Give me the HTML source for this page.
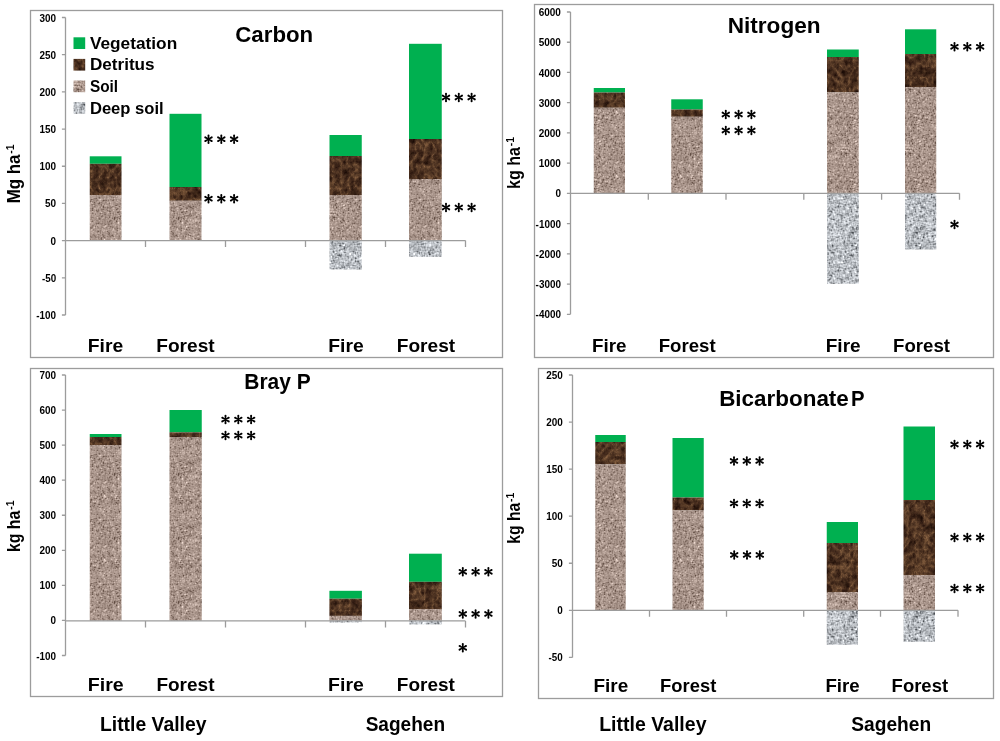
<!DOCTYPE html>
<html><head><meta charset="utf-8"><title>Figure</title>
<style>
html,body{margin:0;padding:0;background:#fff;}
body{width:1000px;height:741px;overflow:hidden;font-family:"Liberation Sans",sans-serif;}
svg{display:block;will-change:transform}
svg text{font-family:"Liberation Sans",sans-serif;font-weight:bold;fill:#000}
</style></head><body>
<svg width="1000" height="741" viewBox="0 0 1000 741">
<defs>
<filter id="f_det" x="0" y="0" width="100%" height="100%" color-interpolation-filters="sRGB">
<feTurbulence type="turbulence" baseFrequency="0.12 0.09" numOctaves="5" seed="12" result="n"/>
<feColorMatrix in="n" type="matrix" values="1 0 0 0 0  1 0 0 0 0  1 0 0 0 0  0 0 0 0 1" result="m"/>
<feComponentTransfer in="m" result="c">
<feFuncR type="table" tableValues="0.50 0.42 0.35 0.30 0.265 0.235 0.21 0.19 0.18 0.18 0.18"/>
<feFuncG type="table" tableValues="0.36 0.29 0.235 0.195 0.165 0.14 0.125 0.11 0.10 0.10 0.10"/>
<feFuncB type="table" tableValues="0.24 0.19 0.15 0.125 0.105 0.09 0.075 0.065 0.06 0.06 0.06"/>
</feComponentTransfer>
<feTurbulence type="fractalNoise" baseFrequency="0.24 0.2" numOctaves="3" seed="5" result="g"/>
<feColorMatrix in="g" type="matrix" values="1.0 0 0 0 0  0.8 0 0 0 0.1  0.55 0 0 0 0.225  0 0 0 0 1" result="g2"/>
<feComposite in="c" in2="g2" operator="arithmetic" k1="0" k2="1" k3="0.32" k4="-0.15"/>
</filter>
<pattern id="p_soil" patternUnits="userSpaceOnUse" width="64" height="64">
<rect width="64" height="64" fill="#a79389"/>
<g fill="none" stroke-width="1" shape-rendering="crispEdges" transform="translate(0 .5)">
<path stroke="#5f4b41" d="M16 15h1M14 25h1M50 26h1M55 63h1"/>
<path stroke="#675349" d="M39 8h1M39 14h1M23 20h1M13 25h1M50 25h1M9 26h1M23 28h1M52 29h1M27 51h1M52 54h1M35 56h1M18 60h1M17 63h1"/>
<path stroke="#6f5b51" d="M63 5h1M10 7h1M30 10h1M16 11h1M35 11h1M52 13h1M1 14h1M39 15h1M62 15h1M28 16h1M52 17h1M28 18h1M58 19h1M53 20h2M9 25h1M50 27h1M21 30h1M34 31h1M34 39h1M48 43h1M37 46h1M6 47h1M38 49h1M52 50h1M35 51h1M48 51h1M54 52h1M18 53h1M63 54h1M30 55h1M26 58h1M15 60h1M42 63h1"/>
<path stroke="#776359" d="M22 2h1M33 2h1M35 5h1M4 6h1M32 6h1M13 7h1M27 7h1M49 8h1M26 9h1M15 12h1M15 13h1M61 14h1M63 15h1M32 18h1M45 19h1M17 22h1M56 24h1M45 25h1M35 26h1M55 26h1M14 27h1M22 27h1M20 29h1M28 29h1M45 29h1M60 35h1M18 36h1M53 36h1M10 37h1M58 37h1M22 39h1M43 39h1M45 41h1M12 42h1M62 43h1M23 44h1M39 44h1M41 50h1M36 51h1M27 52h1M58 52h1M8 53h1M20 53h1M62 53h1M12 54h1M22 54h1M26 54h1M31 55h1M53 55h1M63 55h1M20 56h1M34 56h1M60 56h1M5 58h1M6 59h1M58 62h1M62 62h1"/>
<path stroke="#7f6b61" d="M51 0h1M17 2h1M15 3h1M13 5h1M9 6h1M5 7h1M15 8h1M40 8h1M42 8h1M48 8h1M22 9h1M35 10h1M9 11h1M34 11h1M45 11h1M37 12h1M51 13h1M55 14h1M60 14h1M62 14h1M43 15h1M0 16h1M53 16h1M58 16h2M28 17h1M39 17h1M34 18h1M43 18h1M33 19h1M46 19h1M11 21h1M13 21h1M28 21h1M36 21h1M46 21h1M41 22h1M17 23h1M63 23h1M4 24h1M37 24h1M4 25h1M53 25h1M48 26h1M23 27h1M46 28h1M7 30h1M32 31h1M47 31h1M41 32h1M44 32h1M23 33h1M46 34h1M19 36h1M19 38h1M53 38h1M6 42h1M38 42h1M60 42h1M57 44h1M37 45h1M40 45h1M3 46h1M21 46h1M37 47h1M6 48h1M33 48h1M53 48h1M60 48h1M60 49h1M22 50h1M30 50h1M32 50h1M3 51h1M15 52h1M14 53h1M26 53h1M9 54h1M25 55h1M43 55h1M16 57h1M30 57h1M3 59h1M38 59h1M15 61h1M22 62h1"/>
<path stroke="#877369" d="M18 0h1M55 0h1M27 1h1M6 2h1M15 2h1M8 3h1M38 3h1M9 5h1M18 5h1M23 5h1M49 5h1M31 6h1M49 7h1M41 8h1M44 8h1M12 9h2M28 12h1M30 12h1M7 13h1M37 13h1M60 13h1M13 14h1M30 14h1M13 15h1M22 15h1M47 15h1M58 15h1M1 16h1M37 17h2M53 17h1M55 19h1M15 21h1M57 21h1M62 21h1M40 22h1M55 22h1M61 22h1M23 23h1M38 23h1M59 23h3M12 24h1M38 24h1M45 24h1M16 25h1M41 25h1M51 25h1M14 26h1M23 26h1M35 27h1M12 28h1M24 28h1M52 28h1M58 28h1M24 29h1M59 29h1M4 30h1M22 30h1M33 31h1M57 31h1M61 32h1M31 34h1M26 35h2M48 35h1M0 36h1M61 37h1M23 38h1M16 39h1M33 39h1M11 40h1M44 40h1M61 40h1M20 41h1M44 42h2M58 42h1M30 43h1M39 43h1M47 43h1M19 44h1M22 44h1M26 44h1M31 44h1M46 44h1M49 44h1M55 44h1M7 47h1M9 47h1M12 48h1M35 48h1M61 48h1M17 49h2M44 49h1M47 49h1M14 50h1M21 50h1M31 50h1M4 51h1M26 51h1M63 51h1M14 52h1M26 52h1M39 52h1M50 52h1M9 53h1M17 53h1M37 53h1M58 53h1M63 53h1M47 54h1M51 54h1M52 55h1M51 56h1M5 57h1M4 58h1M19 58h1M29 58h1M33 58h1M45 58h1M35 59h1M8 60h1M20 60h1M59 60h1M19 61h1M25 61h1M27 61h1M50 61h1M47 62h1"/>
<path stroke="#8f7b71" d="M11 0h1M17 0h1M47 0h1M6 1h1M11 1h1M58 1h1M30 2h1M37 2h1M13 3h2M17 3h1M22 3h1M24 3h1M7 5h1M12 5h1M17 5h1M19 5h1M47 5h1M62 5h1M10 6h1M22 6h1M30 6h1M35 6h1M28 7h1M2 8h1M26 8h1M32 8h2M59 8h1M6 10h1M37 10h1M7 11h1M15 11h1M30 11h1M56 11h1M0 12h1M3 12h1M5 12h1M53 12h1M25 13h1M16 14h1M18 14h1M48 14h1M41 15h1M44 15h1M46 15h1M51 15h1M59 15h1M61 15h1M16 16h1M43 16h1M46 16h1M34 17h1M45 18h1M23 19h1M34 19h1M54 19h1M62 19h1M3 20h1M40 20h1M12 21h1M20 21h1M49 21h1M31 22h1M62 22h1M9 23h1M58 23h1M9 24h1M13 24h2M62 24h1M12 25h1M15 25h1M27 25h2M52 25h1M8 26h1M12 26h1M22 26h1M36 26h1M51 26h1M11 27h1M53 27h1M56 27h1M11 28h1M22 28h1M47 28h1M43 29h1M46 29h1M58 29h1M34 30h1M57 30h1M4 31h1M38 31h1M44 31h1M25 32h1M45 32h1M28 33h2M23 34h1M28 34h1M33 34h1M28 35h1M42 35h1M6 36h2M10 36h1M17 36h1M26 36h2M7 38h1M12 38h2M36 38h1M17 39h1M36 39h1M20 40h1M36 40h1M45 40h1M44 41h1M29 42h1M34 42h1M45 43h1M0 44h1M13 44h1M43 44h1M27 45h1M31 45h1M34 45h1M7 46h1M12 46h1M25 46h1M21 47h1M26 47h1M1 48h1M7 48h1M24 48h1M23 49h1M55 49h1M36 50h1M48 50h1M55 50h1M58 51h1M47 52h1M53 52h1M63 52h1M7 53h1M39 53h1M47 53h1M61 53h1M0 54h1M7 55h1M12 55h1M20 55h1M24 55h1M54 55h1M60 55h1M49 56h1M10 57h1M17 57h1M28 57h1M15 58h1M25 58h1M10 59h1M15 59h1M6 60h1M9 60h1M19 60h1M4 61h1M18 61h1M54 61h1M5 62h1M40 62h1M46 62h1M47 63h1"/>
<path stroke="#978379" d="M5 0h1M42 0h1M52 0h1M5 1h1M33 1h1M51 1h1M53 1h1M32 2h1M3 3h1M37 3h1M45 3h1M51 3h1M60 3h1M13 4h1M18 4h2M24 4h1M46 4h2M63 4h1M11 5h1M24 5h1M34 5h1M42 5h1M58 5h1M5 6h1M12 6h2M23 6h1M57 6h2M12 7h1M26 7h1M29 7h1M46 7h1M52 7h1M1 8h1M38 8h1M56 8h1M6 9h1M28 9h1M32 9h1M38 9h2M7 10h1M9 10h2M21 10h2M41 10h1M5 11h2M8 11h1M57 11h1M9 12h1M11 12h1M14 12h1M27 12h1M29 12h1M34 12h1M40 12h1M56 12h1M11 13h1M13 13h2M31 13h1M39 13h1M53 13h1M62 13h1M0 14h1M3 14h1M24 14h1M31 14h1M46 14h1M49 14h1M59 14h1M0 15h1M3 15h2M17 15h1M21 15h1M28 15h1M36 15h1M40 15h1M45 15h1M57 15h1M21 16h1M39 16h1M45 16h1M54 16h1M63 16h1M1 17h1M14 17h1M18 17h1M24 17h1M42 17h1M1 18h1M6 18h1M14 18h2M24 18h1M33 18h1M37 18h1M62 18h1M32 19h1M38 19h1M59 19h1M41 20h1M55 20h1M1 21h1M3 21h1M8 21h1M10 21h1M25 21h1M29 21h1M38 21h1M40 21h2M6 22h1M49 22h1M51 22h1M1 23h1M18 23h1M24 23h1M35 23h1M44 23h3M56 23h1M62 23h1M5 24h1M41 24h1M51 24h1M60 24h2M8 25h1M23 25h1M29 25h1M35 25h1M42 25h1M48 25h1M56 25h1M60 25h1M1 26h1M13 26h1M34 26h1M41 26h1M44 26h1M53 26h1M56 26h1M59 26h1M36 27h1M39 27h2M28 28h1M32 28h2M40 28h1M45 28h1M9 29h1M17 29h1M23 29h1M27 29h1M38 29h1M53 29h1M8 30h1M35 30h1M43 30h3M47 30h1M52 30h1M9 31h1M20 31h1M35 31h3M40 31h1M56 31h1M0 32h1M4 32h2M18 32h1M32 32h1M37 32h1M40 32h1M6 33h1M9 33h1M44 33h1M57 33h1M9 34h1M21 34h1M44 34h1M47 34h2M52 34h1M17 35h1M34 35h1M37 35h2M46 35h1M52 35h2M61 35h1M14 36h1M24 36h1M45 36h1M50 36h3M6 37h2M29 37h1M51 37h2M59 37h1M20 38h1M22 38h1M24 38h2M52 38h1M59 38h1M7 39h1M11 39h1M23 39h1M2 40h1M14 40h2M33 40h1M57 40h2M6 41h1M36 41h1M53 41h1M57 41h2M5 42h1M7 42h1M11 42h1M13 42h1M15 42h1M39 42h1M48 42h1M57 42h1M12 43h2M22 43h2M29 43h1M38 43h1M40 43h1M55 43h1M60 43h2M8 44h1M27 44h1M30 44h1M34 44h1M45 44h1M48 44h1M32 45h1M39 45h1M55 45h1M6 46h1M34 46h1M36 46h1M54 46h2M5 47h1M11 48h1M25 48h1M34 48h1M54 48h1M56 48h1M11 49h1M19 49h2M33 49h1M48 49h1M61 49h1M4 50h1M15 50h1M42 50h1M46 50h1M49 50h2M16 51h1M28 51h1M47 51h1M61 51h1M8 52h2M16 52h1M36 52h2M48 52h1M51 52h1M59 52h3M13 53h1M22 53h1M36 53h1M48 53h1M54 53h1M17 54h1M20 54h1M25 54h1M35 54h1M37 54h1M48 54h1M53 54h2M56 54h1M62 54h1M29 55h1M35 55h1M44 55h1M47 55h1M50 55h2M61 55h2M7 56h1M11 56h1M18 56h1M36 56h1M53 56h1M58 56h2M11 57h1M58 57h1M60 57h2M6 58h1M8 58h1M16 58h2M30 58h1M57 58h1M4 59h2M9 59h1M39 59h1M57 59h1M59 59h1M7 60h1M13 60h1M22 60h1M32 60h1M42 60h1M57 60h1M62 60h1M10 61h1M57 61h2M60 61h2M57 62h1M61 62h1M11 63h1M16 63h1M18 63h2M46 63h1M61 63h2"/>
<path stroke="#9f8b81" d="M12 0h1M16 0h1M19 0h1M27 0h1M32 0h3M36 0h1M41 0h1M46 0h1M53 0h1M60 0h1M7 1h1M12 1h1M17 1h1M22 1h1M28 1h1M46 1h1M57 1h1M60 1h1M3 2h2M23 2h1M27 2h1M29 2h1M34 2h1M41 2h2M57 2h1M12 3h1M18 3h2M32 3h1M43 3h2M46 3h1M57 3h1M59 3h1M3 4h1M8 4h1M20 4h1M25 4h1M32 4h1M35 4h1M37 4h2M42 4h1M45 4h1M62 4h1M0 5h2M3 5h1M8 5h1M10 5h1M20 5h1M22 5h1M32 5h1M36 5h1M38 5h2M48 5h1M51 5h1M57 5h1M6 6h1M8 6h1M15 6h2M39 6h1M42 6h1M8 7h2M11 7h1M30 7h4M39 7h1M41 7h2M47 7h1M58 7h1M22 8h1M27 8h1M29 8h2M47 8h1M52 8h1M58 8h1M14 9h2M25 9h1M27 9h1M29 9h2M41 9h1M62 9h1M4 10h1M19 10h2M23 10h1M29 10h1M31 10h1M36 10h1M38 10h1M42 10h1M45 10h1M50 10h1M58 10h1M2 11h1M20 11h1M31 11h1M33 11h1M37 11h2M40 11h1M51 11h3M55 11h1M58 11h1M61 11h1M2 12h1M7 12h2M13 12h1M16 12h2M20 12h1M22 12h1M31 12h1M35 12h2M43 12h1M45 12h1M51 12h2M54 12h2M57 12h1M61 12h1M1 13h1M16 13h1M28 13h1M32 13h1M45 13h1M57 13h1M59 13h1M61 13h1M2 14h1M4 14h1M22 14h1M25 14h1M28 14h1M36 14h1M38 14h1M43 14h1M45 14h1M58 14h1M1 15h1M29 15h1M52 15h1M60 15h1M20 16h1M26 16h2M29 16h1M51 16h2M62 16h1M0 17h1M15 17h1M20 17h1M32 17h1M40 17h1M43 17h1M58 17h1M62 17h2M8 18h1M16 18h1M20 18h1M23 18h1M25 18h3M29 18h1M38 18h1M44 18h1M47 18h1M52 18h1M61 18h1M18 19h1M25 19h1M39 19h1M53 19h1M4 20h1M22 20h1M28 20h1M33 20h1M39 20h1M46 20h1M49 20h1M56 20h3M62 20h1M0 21h1M2 21h1M14 21h1M17 21h1M23 21h1M31 21h1M35 21h1M37 21h1M45 21h1M48 21h1M55 21h1M61 21h1M1 22h3M16 22h1M22 22h1M36 22h1M46 22h1M52 22h1M7 23h1M27 23h1M41 23h1M49 23h1M57 23h1M7 24h2M27 24h1M33 24h2M54 24h2M58 24h2M63 24h1M3 25h1M10 25h1M17 25h1M20 25h3M37 25h1M43 25h1M54 25h1M7 26h1M16 26h1M20 26h2M27 26h1M32 26h1M49 26h1M8 27h3M12 27h1M27 27h1M31 27h1M34 27h1M38 27h1M41 27h1M49 27h1M55 27h1M8 28h1M17 28h1M20 28h1M41 28h1M57 28h1M59 28h1M8 29h1M10 29h1M12 29h1M14 29h1M21 29h1M33 29h2M40 29h2M47 29h2M57 29h1M5 30h1M9 30h1M14 30h1M20 30h1M32 30h1M38 30h1M40 30h2M48 30h1M51 30h1M56 30h1M2 31h1M5 31h1M18 31h2M21 31h1M25 31h1M31 31h1M41 31h1M43 31h1M45 31h2M48 31h1M58 31h1M6 32h1M17 32h1M30 32h1M38 32h1M47 32h1M53 32h1M56 32h1M62 32h1M10 33h1M13 33h1M18 33h2M38 33h3M45 33h1M14 34h1M19 34h2M22 34h1M27 34h1M37 34h1M43 34h1M45 34h1M49 34h1M53 34h1M0 35h1M14 35h1M23 35h1M33 35h1M49 35h1M59 35h1M62 35h1M3 36h2M8 36h1M13 36h1M20 36h1M31 36h1M34 36h1M36 36h2M39 36h2M42 36h1M55 36h1M58 36h1M3 37h1M5 37h1M17 37h3M21 37h1M25 37h1M53 37h1M0 38h2M5 38h1M10 38h1M17 38h2M29 38h1M31 38h1M33 38h2M45 38h1M60 38h2M6 39h1M8 39h1M14 39h1M18 39h3M24 39h2M35 39h1M44 39h1M57 39h1M25 40h1M38 40h1M52 40h1M62 40h1M12 41h1M15 41h1M43 41h1M52 41h1M56 41h1M59 41h1M63 41h1M22 42h1M30 42h1M35 42h1M52 42h1M59 42h1M3 43h3M15 43h1M24 43h3M28 43h1M31 43h1M36 43h1M46 43h1M49 43h1M57 43h1M9 44h1M12 44h1M16 44h2M20 44h1M24 44h1M28 44h1M40 44h1M44 44h1M47 44h1M54 44h1M62 44h1M10 45h1M13 45h1M19 45h1M21 45h1M26 45h1M28 45h1M35 45h1M38 45h1M41 45h1M46 45h1M54 45h1M57 45h1M2 46h1M4 46h2M13 46h2M50 46h1M63 46h1M8 47h1M12 47h1M20 47h1M35 47h2M43 47h3M0 48h1M5 48h1M13 48h1M20 48h1M44 48h2M47 48h1M55 48h1M57 48h1M62 48h1M5 49h2M12 49h1M14 49h1M30 49h1M37 49h1M45 49h2M49 49h1M2 50h2M5 50h1M11 50h1M16 50h1M19 50h2M23 50h1M27 50h1M35 50h1M37 50h2M47 50h1M53 50h1M60 50h1M0 51h1M5 51h1M9 51h1M14 51h2M25 51h1M30 51h2M40 51h1M49 51h2M56 51h2M59 51h2M0 52h1M4 52h1M18 52h1M35 52h1M40 52h1M52 52h1M57 52h1M62 52h1M0 53h3M10 53h1M12 53h1M15 53h1M19 53h1M21 53h1M27 53h1M35 53h1M38 53h1M40 53h1M45 53h2M50 53h4M57 53h1M1 54h1M3 54h1M8 54h1M10 54h1M18 54h1M21 54h1M23 54h1M27 54h2M30 54h2M38 54h3M45 54h2M50 54h1M55 54h1M0 55h1M3 55h1M14 55h2M17 55h1M21 55h1M28 55h1M34 55h1M37 55h1M41 55h1M49 55h1M57 55h1M10 56h1M14 56h1M16 56h2M19 56h1M25 56h1M28 56h3M37 56h1M41 56h1M46 56h2M50 56h1M54 56h1M61 56h1M3 57h2M9 57h1M15 57h1M26 57h2M29 57h1M41 57h2M59 57h1M7 58h1M9 58h1M27 58h2M34 58h1M41 58h1M51 58h2M58 58h2M61 58h1M8 59h1M13 59h1M16 59h1M23 59h1M27 59h1M29 59h3M36 59h2M1 60h1M3 60h1M12 60h1M14 60h1M16 60h2M21 60h1M27 60h1M31 60h1M38 60h1M47 60h1M56 60h1M61 60h1M63 60h1M5 61h1M14 61h1M16 61h1M23 61h1M26 61h1M31 61h2M34 61h1M59 61h1M62 61h1M4 62h1M17 62h3M27 62h2M54 62h2M5 63h1M24 63h1M32 63h2M41 63h1M50 63h2M54 63h1M56 63h3"/>
<path stroke="#af9b91" d="M2 0h1M9 0h1M13 0h1M25 0h1M29 0h1M37 0h1M44 0h1M49 0h1M63 0h1M0 1h2M9 1h2M13 1h1M19 1h1M23 1h2M26 1h1M31 1h1M35 1h1M37 1h1M39 1h1M42 1h1M55 1h2M1 2h2M10 2h1M19 2h2M31 2h1M43 2h1M45 2h1M47 2h1M50 2h1M56 2h1M2 3h1M5 3h1M10 3h1M16 3h1M20 3h1M23 3h1M27 3h1M31 3h1M47 3h1M53 3h1M55 3h1M62 3h1M2 4h1M7 4h1M9 4h3M23 4h1M26 4h1M28 4h4M33 4h1M36 4h1M40 4h1M43 4h1M49 4h2M53 4h1M60 4h1M4 5h1M15 5h1M27 5h1M31 5h1M33 5h1M41 5h1M45 5h2M61 5h1M0 6h1M7 6h1M18 6h1M24 6h1M26 6h1M33 6h2M36 6h1M41 6h1M45 6h1M47 6h1M51 6h2M56 6h1M61 6h1M7 7h1M14 7h1M17 7h1M22 7h1M24 7h1M40 7h1M43 7h1M45 7h1M53 7h1M12 8h1M14 8h1M21 8h1M24 8h1M45 8h1M50 8h2M63 8h1M0 9h2M4 9h1M7 9h1M9 9h1M35 9h1M37 9h1M40 9h1M43 9h1M47 9h2M50 9h3M61 9h1M3 10h1M16 10h1M18 10h1M24 10h1M32 10h1M34 10h1M39 10h2M54 10h1M56 10h1M61 10h2M3 11h1M12 11h3M23 11h2M32 11h1M43 11h1M47 11h1M62 11h2M6 12h1M25 12h1M32 12h2M58 12h2M63 12h1M8 13h2M17 13h3M26 13h1M34 13h1M38 13h1M44 13h1M46 13h1M55 13h2M63 13h1M5 14h2M8 14h1M11 14h1M14 14h2M27 14h1M32 14h1M40 14h1M44 14h1M47 14h1M51 14h1M57 14h1M6 15h1M8 15h1M10 15h1M12 15h1M32 15h1M50 15h1M53 15h1M56 15h1M2 16h1M18 16h1M25 16h1M32 16h1M34 16h2M55 16h2M60 16h1M4 17h2M8 17h1M17 17h1M21 17h1M23 17h1M26 17h1M30 17h1M33 17h1M35 17h1M48 17h1M50 17h1M54 17h1M0 18h1M2 18h1M4 18h1M31 18h1M36 18h1M39 18h2M2 19h1M17 19h1M26 19h2M35 19h1M42 19h1M48 19h3M52 19h1M61 19h1M0 20h1M20 20h1M29 20h1M32 20h1M35 20h1M38 20h1M42 20h1M48 20h1M52 20h1M60 20h2M4 21h1M9 21h1M16 21h1M21 21h1M24 21h1M34 21h1M44 21h1M47 21h1M53 21h1M59 21h1M0 22h1M21 22h1M25 22h1M27 22h3M33 22h2M38 22h1M43 22h1M50 22h1M53 22h1M56 22h1M60 22h1M2 23h2M16 23h1M20 23h3M25 23h1M30 23h1M32 23h2M47 23h2M52 23h2M0 24h2M6 24h1M10 24h1M17 24h1M28 24h2M40 24h1M43 24h2M52 24h1M0 25h2M5 25h1M11 25h1M18 25h1M24 25h1M26 25h1M30 25h1M32 25h1M38 25h1M40 25h1M44 25h1M62 25h1M2 26h1M5 26h1M10 26h1M17 26h1M25 26h1M37 26h1M39 26h1M45 26h1M47 26h1M57 26h1M62 26h2M1 27h1M5 27h1M7 27h1M21 27h1M25 27h1M29 27h1M33 27h1M37 27h1M45 27h1M47 27h2M51 27h2M58 27h1M9 28h1M18 28h1M31 28h1M37 28h1M42 28h1M49 28h1M51 28h1M55 28h1M2 29h1M5 29h1M7 29h1M13 29h1M15 29h1M31 29h1M37 29h1M42 29h1M51 29h1M55 29h1M60 29h1M62 29h2M0 30h1M11 30h1M17 30h1M23 30h1M25 30h1M29 30h1M36 30h1M42 30h1M59 30h2M12 31h1M14 31h1M23 31h1M29 31h2M49 31h1M62 31h1M3 32h1M7 32h1M10 32h1M13 32h1M20 32h1M28 32h1M31 32h1M34 32h2M39 32h1M48 32h1M51 32h1M58 32h1M60 32h1M63 32h1M2 33h1M5 33h1M11 33h1M17 33h1M20 33h1M27 33h1M30 33h1M32 33h1M43 33h1M46 33h2M50 33h1M52 33h1M61 33h1M1 34h1M10 34h1M12 34h1M15 34h1M24 34h3M34 34h1M36 34h1M50 34h1M55 34h1M60 34h2M1 35h1M3 35h1M9 35h1M18 35h3M35 35h2M41 35h1M45 35h1M55 35h1M2 36h1M11 36h1M23 36h1M32 36h1M44 36h1M47 36h1M59 36h1M62 36h1M0 37h1M2 37h1M32 37h1M35 37h1M42 37h1M45 37h1M50 37h1M55 37h1M57 37h1M2 38h2M8 38h1M15 38h1M28 38h1M32 38h1M43 38h1M51 38h1M2 39h2M5 39h1M12 39h1M21 39h1M26 39h2M30 39h1M37 39h1M42 39h1M59 39h1M61 39h3M0 40h1M4 40h1M8 40h1M17 40h2M22 40h1M24 40h1M26 40h1M29 40h2M32 40h1M34 40h2M47 40h1M50 40h1M55 40h1M63 40h1M0 41h1M5 41h1M7 41h1M11 41h1M18 41h2M23 41h1M27 41h1M29 41h1M33 41h1M40 41h1M46 41h1M49 41h1M54 41h1M60 41h1M8 42h2M14 42h1M17 42h1M23 42h1M27 42h1M31 42h2M36 42h1M40 42h2M54 42h2M0 43h1M2 43h1M6 43h1M8 43h2M11 43h1M17 43h1M20 43h1M27 43h1M37 43h1M43 43h1M52 43h1M58 43h2M2 44h2M7 44h1M14 44h2M41 44h2M11 45h1M17 45h2M22 45h1M43 45h1M47 45h1M52 45h2M62 45h2M0 46h1M9 46h1M16 46h1M28 46h2M35 46h1M38 46h3M44 46h1M46 46h1M48 46h2M52 46h1M57 46h1M0 47h1M10 47h2M18 47h1M46 47h1M49 47h1M55 47h3M63 47h1M2 48h2M10 48h1M16 48h1M19 48h1M23 48h1M28 48h1M30 48h1M32 48h1M36 48h1M48 48h1M59 48h1M0 49h1M4 49h1M7 49h1M13 49h1M15 49h2M21 49h2M24 49h2M28 49h1M32 49h1M35 49h1M39 49h1M57 49h2M1 50h1M10 50h1M18 50h1M25 50h2M33 50h1M40 50h1M45 50h1M51 50h1M54 50h1M57 50h1M1 51h1M7 51h1M10 51h2M21 51h1M33 51h1M44 51h2M52 51h1M1 52h1M10 52h3M20 52h1M22 52h1M32 52h1M34 52h1M41 52h2M45 52h2M11 53h1M16 53h1M56 53h1M5 54h1M15 54h2M24 54h1M29 54h1M34 54h1M49 54h1M57 54h2M6 55h1M8 55h3M19 55h1M22 55h2M26 55h1M36 55h1M38 55h1M45 55h1M59 55h1M1 56h1M8 56h1M12 56h1M15 56h1M27 56h1M32 56h1M39 56h1M42 56h1M44 56h2M48 56h1M56 56h2M62 56h1M0 57h1M6 57h1M13 57h2M18 57h1M20 57h1M25 57h1M31 57h3M35 57h1M37 57h1M39 57h1M44 57h1M46 57h1M49 57h1M1 58h1M13 58h2M24 58h1M31 58h1M36 58h1M38 58h1M47 58h1M50 58h1M54 58h1M62 58h1M1 59h1M12 59h1M14 59h1M18 59h2M24 59h1M42 59h1M44 59h1M48 59h1M51 59h1M53 59h1M56 59h1M61 59h1M63 59h1M4 60h1M28 60h1M30 60h1M33 60h2M37 60h1M41 60h1M46 60h1M50 60h1M53 60h1M6 61h1M12 61h2M17 61h1M20 61h1M42 61h1M44 61h2M48 61h2M52 61h1M55 61h2M1 62h1M3 62h1M6 62h1M9 62h1M11 62h1M14 62h1M20 62h2M30 62h2M33 62h2M38 62h1M53 62h1M56 62h1M0 63h1M8 63h1M10 63h1M15 63h1M23 63h1M29 63h1M31 63h1M34 63h1M37 63h1M40 63h1M43 63h1M52 63h1M63 63h1"/>
<path stroke="#b7a399" d="M0 0h1M6 0h1M10 0h1M24 0h1M43 0h1M57 0h1M61 0h2M2 1h1M8 1h1M14 1h1M21 1h1M38 1h1M48 1h1M54 1h1M59 1h1M61 1h1M63 1h1M24 2h1M26 2h1M39 2h1M48 2h1M52 2h2M59 2h3M11 3h1M26 3h1M29 3h2M33 3h1M54 3h1M1 4h1M14 4h3M21 4h1M27 4h1M41 4h1M44 4h1M59 4h1M21 5h1M28 5h3M44 5h1M59 5h2M14 6h1M19 6h1M25 6h1M27 6h1M37 6h1M43 6h1M46 6h1M48 6h1M53 6h2M59 6h1M1 7h1M18 7h1M20 7h1M38 7h1M61 7h1M63 7h1M6 8h1M28 8h1M54 8h1M62 8h1M2 9h1M8 9h1M10 9h1M16 9h1M19 9h2M33 9h2M45 9h1M54 9h2M0 10h2M11 10h3M33 10h1M47 10h2M57 10h1M63 10h1M11 11h1M25 11h2M48 11h1M18 12h1M21 12h1M23 12h1M26 12h1M38 12h2M41 12h1M47 12h1M10 13h1M12 13h1M22 13h1M40 13h1M43 13h1M49 13h1M20 14h1M26 14h1M35 14h1M41 14h2M14 15h2M19 15h1M26 15h2M33 15h1M54 15h1M11 16h1M2 17h2M49 17h1M57 17h1M59 17h1M11 18h2M17 18h1M21 18h1M50 18h1M53 18h1M58 18h1M0 19h1M3 19h1M7 19h3M15 19h1M29 19h1M40 19h2M60 19h1M5 20h2M8 20h3M14 20h1M17 20h1M27 20h1M30 20h1M36 20h1M47 20h1M50 20h1M18 21h1M26 21h1M30 21h1M32 21h1M52 21h1M60 21h1M63 21h1M5 22h1M8 22h1M18 22h1M30 22h1M32 22h1M48 22h1M57 22h1M4 23h3M11 23h1M13 23h2M28 23h1M31 23h1M50 23h1M55 23h1M3 24h1M15 24h2M21 24h1M26 24h1M30 24h2M47 25h1M57 25h1M63 25h1M4 26h1M15 26h1M24 26h1M26 26h1M28 26h1M42 26h1M46 26h1M58 26h1M61 26h1M0 27h1M2 27h1M13 27h1M17 27h1M24 27h1M61 27h1M63 27h1M2 28h1M16 28h1M19 28h1M25 28h1M27 28h1M44 28h1M4 29h1M19 29h1M49 29h2M61 29h1M2 30h1M6 30h1M10 30h1M12 30h1M15 30h1M19 30h1M27 30h2M30 30h1M37 30h1M53 30h1M0 31h1M11 31h1M16 31h1M24 31h1M26 31h2M50 31h1M55 31h1M8 32h1M14 32h2M23 32h1M27 32h1M33 32h1M50 32h1M54 32h2M1 33h1M4 33h1M26 33h1M35 33h2M49 33h1M54 33h1M58 33h3M62 33h2M0 34h1M11 34h1M32 34h1M35 34h1M42 34h1M51 34h1M2 35h1M8 35h1M10 35h2M54 35h1M56 35h1M15 36h2M29 36h2M1 37h1M15 37h2M23 37h1M33 37h1M39 37h2M44 37h1M46 37h1M48 37h1M63 37h1M26 38h1M41 38h1M57 38h1M10 39h1M28 39h1M40 39h1M47 39h2M50 39h2M56 39h1M1 40h1M7 40h1M9 40h1M13 40h1M16 40h1M19 40h1M31 40h1M37 40h1M42 40h1M48 40h1M53 40h1M2 41h3M8 41h1M13 41h2M17 41h1M21 41h1M24 41h1M31 41h1M35 41h1M37 41h1M48 41h1M61 41h1M0 42h1M10 42h1M16 42h1M18 42h1M25 42h1M37 42h1M42 42h1M50 42h2M63 42h1M10 43h1M42 43h1M56 43h1M50 44h1M56 44h1M60 44h1M3 45h1M9 45h1M23 45h2M48 45h2M51 45h1M61 45h1M15 46h1M27 46h1M32 46h1M42 46h1M51 46h1M60 46h1M62 46h1M4 47h1M13 47h1M16 47h2M22 47h2M27 47h1M33 47h1M39 47h1M41 47h1M53 47h1M58 47h2M61 47h1M9 48h1M18 48h1M22 48h1M42 48h1M50 48h1M52 48h1M10 49h1M26 49h2M34 49h1M50 49h1M53 49h1M62 49h2M7 50h1M12 50h1M24 50h1M28 50h1M39 50h1M58 50h2M8 51h1M12 51h1M23 51h1M32 51h1M55 51h1M62 51h1M2 52h1M21 52h1M29 52h1M31 52h1M56 52h1M25 53h1M28 53h1M41 53h2M32 54h1M42 54h1M2 55h1M27 55h1M33 55h1M55 55h1M0 56h1M4 56h1M6 56h1M24 56h1M1 57h1M12 57h1M22 57h2M36 57h1M40 57h1M50 57h3M0 58h1M2 58h1M21 58h1M23 58h1M46 58h1M48 58h1M60 58h1M63 58h1M20 59h1M22 59h1M28 59h1M41 59h1M43 59h1M45 59h1M50 59h1M52 59h1M25 60h1M40 60h1M44 60h1M51 60h2M55 60h1M2 61h1M11 61h1M29 61h2M33 61h1M39 61h1M46 61h2M63 61h1M12 62h1M25 62h1M35 62h1M39 62h1M43 62h3M49 62h3M3 63h1M6 63h1M22 63h1M30 63h1M35 63h2"/>
<path stroke="#bfaba1" d="M3 0h1M38 0h2M59 0h1M3 1h1M25 1h1M62 1h1M8 2h1M44 2h1M46 2h1M55 2h1M62 2h2M0 3h2M6 3h1M28 3h1M40 3h2M56 3h1M61 3h1M0 4h1M54 4h1M54 5h2M28 6h1M40 6h1M55 6h1M60 6h1M19 7h1M25 7h1M34 7h1M37 7h1M8 8h1M11 8h1M17 8h2M35 8h2M61 8h1M3 9h1M36 9h1M46 9h1M44 10h1M52 10h2M1 11h1M27 11h1M46 11h1M59 11h1M48 12h1M21 13h1M47 13h1M10 14h1M21 14h1M34 14h1M52 14h2M5 15h1M23 15h1M34 15h1M49 15h1M3 16h1M8 16h1M10 16h1M33 16h1M48 16h1M50 16h1M10 17h1M13 17h1M16 17h1M25 17h1M31 17h1M44 17h1M19 18h1M54 18h1M59 18h1M5 19h2M12 19h1M14 19h1M16 19h1M19 19h1M31 19h1M36 19h1M18 20h1M21 20h1M26 20h1M31 20h1M43 20h1M5 21h2M43 21h1M50 21h1M12 22h1M15 22h1M19 22h2M37 22h1M47 22h1M58 22h2M15 23h1M19 23h1M26 23h1M2 24h1M22 24h1M25 24h1M47 24h1M6 25h1M25 25h1M39 25h1M3 26h1M19 26h1M33 26h1M38 26h1M18 27h3M60 27h1M0 28h1M6 28h2M15 28h1M26 28h1M35 28h1M54 28h1M60 28h1M0 29h1M25 29h2M30 29h1M54 29h1M1 30h1M49 30h1M55 30h1M62 30h2M15 31h1M28 31h1M53 31h1M60 31h1M63 31h1M21 32h2M49 32h1M24 33h2M33 33h2M3 34h1M7 34h1M16 34h2M30 34h1M39 34h1M54 34h1M56 34h1M63 34h1M13 35h1M15 35h1M29 35h1M32 35h1M44 35h1M57 35h1M22 36h1M38 36h1M28 37h1M34 37h1M38 37h1M38 38h2M50 38h1M54 38h2M55 39h1M10 40h1M12 40h1M21 40h1M27 40h2M54 40h1M1 41h1M9 41h2M28 41h1M32 41h1M34 41h1M50 41h1M21 42h1M24 42h1M61 42h2M1 43h1M21 43h1M33 43h1M53 43h1M37 44h1M59 44h1M0 45h1M42 45h1M59 45h1M33 46h1M47 46h1M1 47h2M14 47h1M24 47h1M48 47h1M62 47h1M17 48h1M29 48h1M39 48h1M9 49h1M31 49h1M0 50h1M34 50h1M63 50h1M42 51h2M51 51h1M54 51h1M6 52h1M19 52h1M23 52h1M33 52h1M44 52h1M5 53h1M34 53h1M60 53h1M41 54h1M59 54h1M4 55h1M39 55h1M2 56h1M52 56h1M63 56h1M2 57h1M21 57h1M48 57h1M55 57h1M63 57h1M11 58h1M18 58h1M35 58h1M37 58h1M43 58h1M55 58h1M2 59h1M11 59h1M46 59h1M60 59h1M11 60h1M24 60h1M26 60h1M35 60h1M37 61h1M43 61h1M2 62h1M10 62h1M36 62h2M2 63h1M4 63h1M13 63h2M21 63h1M25 63h2M38 63h1M45 63h1"/>
<path stroke="#c7b3a9" d="M8 0h1M22 0h1M56 0h1M4 1h1M25 2h1M7 3h1M6 4h1M55 4h2M58 4h1M61 4h1M5 5h1M56 5h1M44 6h1M53 8h1M43 10h1M22 11h1M28 11h1M46 12h1M29 13h1M41 13h2M48 13h1M19 14h1M25 15h1M37 15h1M12 16h1M19 16h1M23 16h1M30 16h2M9 17h1M11 17h1M3 18h1M4 19h1M28 19h1M7 20h1M13 20h1M7 21h1M26 22h1M54 23h1M3 27h2M54 27h1M57 27h1M5 28h1M62 28h1M1 29h1M6 29h1M16 30h1M61 30h1M59 31h1M24 32h1M41 33h2M51 33h1M7 35h1M40 35h1M58 35h1M57 36h1M12 37h1M54 37h1M21 38h1M27 38h1M40 38h1M42 38h1M48 38h2M4 39h1M29 39h1M39 39h1M54 39h1M51 41h1M2 42h1M50 43h1M1 45h1M58 45h1M23 46h1M59 46h1M61 46h1M15 47h1M51 47h1M4 48h1M31 48h1M51 48h1M41 49h1M8 50h1M13 50h1M13 51h1M18 51h1M24 51h1M53 51h1M5 52h1M24 53h1M30 53h1M33 53h1M59 53h1M33 54h1M12 58h1M55 59h1M62 59h1M36 61h1M27 63h1M44 63h1M59 63h1"/>
<path stroke="#cfbbb1" d="M4 0h1M23 0h1M54 2h1M52 4h1M14 5h1M50 6h1M35 7h1M62 7h1M7 8h1M17 9h2M17 10h1M27 10h1M46 10h1M21 11h1M60 11h1M24 12h1M12 14h1M24 15h1M9 16h1M24 16h1M49 16h1M12 17h1M49 18h1M10 19h1M13 19h1M16 20h1M44 20h1M4 22h1M11 22h1M10 23h1M33 25h1M58 25h1M1 28h1M4 28h1M13 28h1M3 29h1M11 32h1M3 33h1M4 34h1M40 34h1M59 34h1M22 35h1M49 36h1M27 37h1M16 41h1M1 42h1M5 44h2M50 45h1M22 46h1M24 46h1M40 49h1M43 50h1M38 51h1M24 52h1M5 55h1M55 56h1M22 58h1M21 59h1M36 60h1M45 60h1M0 61h1M21 61h1M0 62h1M24 62h1"/>
<path stroke="#d7c3b9" d="M14 0h1M21 0h1M40 2h1M3 7h1M24 13h1M56 18h1M11 19h1M63 19h1M37 20h1M63 20h1M10 22h1M14 22h1M62 27h1M3 28h1M26 30h1M41 34h1M30 35h1M12 36h1M49 37h1M56 38h1M18 43h1M61 44h1M1 46h1M58 46h1M47 47h1M27 48h1M8 49h1M20 51h1M29 53h1M31 53h1M40 61h1M39 63h1"/>
<path stroke="#dfcbc1" d="M36 7h1M57 18h1M9 22h1M18 26h1M54 31h1M12 35h1M52 47h1M40 48h2M51 49h1M62 50h1M13 62h1"/>
<path stroke="#e7d3c9" d="M19 51h1M22 56h2"/>
<path stroke="#efdbd1" d="M23 13h1M54 30h1M58 34h1M40 47h1"/>
</g></pattern>
<pattern id="p_deep" patternUnits="userSpaceOnUse" width="64" height="64">
<rect width="64" height="64" fill="#b7bbc0"/>
<g fill="none" stroke-width="1" shape-rendering="crispEdges" transform="translate(0 .5)">
<path stroke="#494d52" d="M38 37h1M20 40h1M27 45h1M0 53h1M45 62h1"/>
<path stroke="#53575c" d="M48 24h1M36 44h1M20 53h1M24 56h1M19 63h1"/>
<path stroke="#5d6166" d="M35 2h1M61 7h1M6 14h1M63 19h1M43 21h1M1 27h1M43 33h1M21 40h1M0 60h1"/>
<path stroke="#676b70" d="M55 4h1M35 5h1M38 5h1M39 12h1M39 13h1M26 15h1M19 19h1M24 19h1M61 23h1M49 24h1M48 25h1M37 28h1M56 29h1M20 35h1M24 36h1M38 38h1M19 40h1M12 49h1M53 50h1M19 53h1M0 54h1M24 55h1M13 59h1M33 59h1M1 60h1M44 60h1M45 61h1M18 63h1M20 63h1"/>
<path stroke="#71757a" d="M13 4h1M37 5h1M42 10h1M24 11h1M50 12h1M18 15h1M25 15h1M27 15h1M51 18h2M62 19h1M38 21h1M9 23h1M26 24h1M43 25h1M37 27h1M42 30h1M52 30h1M15 32h1M24 35h1M37 37h1M63 38h1M20 41h2M31 41h1M27 44h1M22 46h1M44 47h1M51 47h1M54 47h1M26 48h1M12 50h1M23 51h1M62 58h1M45 60h1M63 60h1M19 62h1M46 62h1"/>
<path stroke="#7b7f84" d="M8 0h1M20 0h1M56 0h1M45 1h1M31 3h1M55 3h1M41 10h1M7 11h1M22 11h1M13 12h1M20 12h1M37 14h1M46 14h1M3 15h1M37 18h1M25 19h1M34 19h1M5 22h1M28 22h1M26 23h1M12 25h1M45 25h1M2 27h1M39 27h1M22 28h1M44 30h1M14 32h1M38 32h1M43 32h1M42 33h1M28 34h1M0 35h1M21 36h1M52 36h1M9 37h1M24 37h1M44 37h1M11 38h1M37 38h1M44 38h1M51 38h1M53 38h1M30 41h1M46 41h1M28 42h1M36 43h1M17 45h1M47 45h1M53 45h1M21 46h1M51 48h1M54 48h1M33 50h1M22 51h1M37 52h1M52 55h1M49 57h1M19 58h1M46 58h1M56 58h1M61 58h1M13 60h1M24 60h1"/>
<path stroke="#85898e" d="M27 0h1M49 0h1M15 1h1M35 1h1M53 1h1M58 1h1M35 4h1M46 4h1M49 4h1M11 5h1M61 6h1M12 7h1M28 7h1M39 7h1M57 7h1M51 8h1M33 9h1M24 10h1M58 10h1M42 11h1M16 12h1M6 13h1M13 13h1M37 13h1M49 13h1M5 14h1M8 14h1M47 14h1M6 15h1M28 15h1M29 16h1M0 17h1M19 17h1M19 18h1M35 19h1M50 19h1M61 19h1M63 20h1M15 21h1M40 21h1M62 22h1M10 23h1M9 24h1M24 24h1M24 25h1M9 26h1M39 26h1M45 26h1M40 27h1M63 27h1M6 28h1M17 28h2M29 28h1M14 29h1M30 29h1M61 31h1M6 33h1M14 33h1M25 33h1M27 34h1M47 34h1M21 35h1M25 35h3M59 35h1M20 36h1M26 36h1M38 36h1M51 36h1M21 37h1M23 39h1M53 39h1M18 40h1M41 42h2M16 43h2M39 43h1M45 43h1M56 43h1M17 44h1M31 44h1M46 44h1M5 45h1M10 46h1M53 46h2M32 48h1M44 48h1M63 48h1M37 49h1M20 51h1M39 51h1M38 52h1M59 53h1M52 54h1M59 54h1M40 55h1M4 56h1M24 57h1M25 60h1M35 60h1M1 61h1M35 61h1M60 61h1M21 62h1M60 62h1M8 63h1M17 63h1M21 63h1"/>
<path stroke="#8f9398" d="M13 0h1M28 0h1M38 0h1M52 0h1M6 1h1M16 1h1M28 1h1M63 1h1M36 2h1M49 3h1M61 3h1M14 4h1M31 4h1M51 4h1M59 4h1M14 5h1M23 6h1M38 6h1M44 7h1M26 9h3M42 9h1M22 10h1M45 10h1M23 11h1M39 11h1M41 11h1M50 11h1M51 12h1M50 13h1M55 13h1M11 14h1M25 14h2M39 14h2M52 14h1M17 15h1M46 15h1M0 16h1M28 16h1M60 17h1M38 20h1M40 20h1M14 21h1M16 21h1M31 21h1M34 21h1M42 21h1M48 21h1M7 22h2M16 22h1M8 23h1M16 23h1M41 23h2M47 23h1M62 23h1M20 24h1M23 24h1M52 24h1M60 24h1M9 25h1M63 26h1M0 27h1M9 27h1M29 29h1M39 29h1M55 29h1M9 30h1M3 31h2M62 31h1M4 32h1M61 32h1M41 33h1M47 33h1M0 34h1M8 34h2M50 35h1M9 36h2M50 36h1M20 37h1M22 37h1M25 37h2M39 37h1M61 37h1M6 38h1M39 38h1M34 39h1M44 39h1M17 40h1M31 40h1M45 40h1M28 41h1M55 41h1M57 41h1M18 42h1M27 42h1M37 43h1M46 43h1M19 44h1M45 44h1M47 44h1M4 45h1M6 45h1M54 45h1M56 45h2M47 46h1M37 47h1M50 47h1M53 47h1M63 47h1M5 48h1M12 48h1M16 48h2M59 48h1M33 49h1M11 50h1M54 50h1M11 51h2M15 51h1M19 51h1M0 52h1M20 52h1M34 52h1M39 52h1M1 53h1M15 53h1M20 54h1M24 54h1M59 55h1M14 56h1M23 56h1M2 57h1M21 57h1M46 57h1M41 58h1M5 59h1M32 59h1M44 59h2M37 60h1M48 60h1M16 61h1M48 61h1M40 63h1"/>
<path stroke="#999da2" d="M6 0h1M9 0h1M12 0h1M21 0h1M43 0h1M55 0h1M52 1h1M7 2h1M28 2h1M50 2h1M58 2h1M63 2h1M46 3h1M62 3h2M50 4h1M56 4h1M58 4h1M0 5h1M36 5h1M0 6h1M14 6h1M16 6h1M19 6h1M22 6h1M30 6h1M50 6h1M27 7h1M28 8h1M5 9h1M23 9h1M32 9h1M34 9h1M44 9h1M58 9h1M61 9h2M3 10h1M7 10h1M14 10h1M21 10h1M6 11h1M8 11h1M21 11h1M29 11h1M37 11h1M63 11h1M49 12h1M24 13h3M38 13h1M40 13h1M56 13h1M38 14h1M41 14h1M12 15h1M47 15h2M61 15h1M12 16h1M25 16h1M27 16h1M61 16h1M1 17h1M12 17h1M35 17h1M2 18h1M5 18h1M32 18h1M35 18h2M62 18h1M19 20h1M30 20h1M45 20h1M41 21h1M6 22h1M13 22h1M15 22h1M43 22h1M47 22h1M49 22h1M23 23h2M49 23h1M60 23h1M10 24h1M25 24h1M30 24h1M47 24h1M57 24h1M61 24h1M20 25h1M26 25h1M28 25h1M49 25h1M10 26h1M17 26h1M62 26h1M6 27h1M22 27h1M45 27h1M23 28h1M30 28h1M44 28h1M56 28h1M41 30h1M43 30h1M55 30h2M26 31h1M44 31h1M52 31h1M44 32h1M57 32h1M60 32h1M62 32h1M13 33h1M15 33h1M57 33h1M26 34h1M51 34h1M59 34h2M5 35h1M28 35h1M51 35h1M30 36h1M35 36h1M49 36h1M45 37h1M63 37h1M22 38h1M32 38h1M36 38h1M45 38h1M61 38h2M11 39h1M19 39h1M22 39h1M24 39h1M43 39h1M51 39h1M23 40h1M30 40h1M54 40h2M0 41h1M18 41h1M45 41h1M17 42h1M21 42h1M46 42h1M38 43h1M55 43h1M0 44h1M6 44h1M9 44h1M35 44h1M37 44h1M56 44h3M19 45h1M28 45h1M46 45h1M48 45h1M24 46h1M37 46h1M60 46h1M0 47h2M26 47h1M43 47h1M0 48h1M42 48h2M17 49h1M44 49h1M34 50h1M58 50h1M18 51h1M38 51h1M41 51h1M12 52h1M15 52h1M30 52h2M57 52h1M5 53h1M12 53h3M21 53h1M25 53h1M29 53h1M1 54h1M4 54h1M13 54h1M27 54h3M37 54h1M40 54h1M25 55h2M38 55h1M43 55h1M51 55h1M5 56h1M34 56h1M59 56h2M3 57h1M20 57h1M22 57h1M34 57h1M36 57h1M48 57h1M56 57h1M60 57h2M47 58h3M8 59h1M34 59h1M53 59h1M56 59h1M2 60h1M8 60h2M33 60h1M58 60h1M40 61h1M44 61h1M46 61h1M49 61h1M18 62h1M25 62h1M59 62h1M2 63h1M6 63h1M9 63h1M25 63h1M52 63h1"/>
<path stroke="#a3a7ac" d="M2 0h1M7 0h1M19 0h1M48 0h1M53 0h1M0 1h1M7 1h1M12 1h2M18 1h1M33 1h1M46 1h1M56 1h1M59 1h1M6 2h1M8 2h1M12 2h1M18 2h1M22 2h1M49 2h1M1 3h1M8 3h1M13 3h1M18 3h1M32 3h1M43 3h1M50 3h1M0 4h1M11 4h1M26 4h1M38 4h1M13 5h1M58 5h1M15 6h1M37 6h1M51 6h1M58 6h1M11 7h1M13 7h1M19 7h1M23 7h1M29 7h1M38 7h1M43 7h1M53 7h1M56 7h1M1 8h2M5 8h1M7 8h1M23 8h1M27 8h1M39 8h1M44 8h1M50 8h1M52 8h2M57 8h1M61 8h1M21 9h2M29 9h1M35 9h1M39 9h1M41 9h1M45 9h1M48 9h1M63 9h1M1 10h1M5 10h1M23 10h1M29 10h1M44 10h1M63 10h1M0 11h2M5 11h1M9 11h1M18 11h2M56 11h1M58 11h1M60 11h1M7 12h1M12 12h1M17 12h1M19 12h1M24 12h1M34 12h1M55 12h2M12 13h1M41 13h1M51 13h1M7 14h1M12 14h1M18 14h1M27 14h2M43 14h1M48 14h2M51 14h1M55 14h1M4 15h2M7 15h1M19 15h1M29 15h1M49 15h1M18 16h1M32 16h1M39 16h1M48 16h1M50 16h1M54 16h1M60 16h1M11 17h1M29 17h1M39 17h1M51 17h1M57 17h1M61 17h1M30 18h1M33 18h2M44 18h3M63 18h1M15 19h1M23 19h1M33 19h1M37 19h2M49 19h1M51 19h1M58 19h1M0 20h1M3 20h1M7 20h1M34 20h1M50 20h1M10 21h1M13 21h1M28 21h1M30 21h1M37 21h1M9 22h1M14 22h1M18 22h1M27 22h1M34 22h1M38 22h1M46 22h1M48 22h1M27 23h1M33 23h1M37 23h1M46 23h1M48 23h1M1 24h1M21 24h1M27 24h1M50 24h1M1 25h1M10 25h1M25 25h1M27 25h1M37 25h2M44 25h1M22 26h1M29 26h1M17 27h1M29 27h1M44 27h1M5 28h1M9 28h1M21 28h1M36 28h1M59 28h1M4 29h3M9 29h1M52 29h2M6 30h1M8 30h1M39 30h1M53 30h1M17 31h1M38 31h1M3 32h1M6 32h1M28 32h1M39 32h1M42 32h1M0 33h1M12 33h1M26 33h1M32 33h1M4 34h1M14 34h1M20 34h1M25 34h1M29 34h1M41 34h1M46 34h1M50 34h1M4 35h1M18 35h2M41 35h2M47 35h1M52 35h1M60 35h1M22 36h1M25 36h1M27 36h1M37 36h1M39 36h1M2 37h1M8 37h1M13 37h1M36 37h1M51 37h1M62 37h1M12 38h1M18 38h2M29 38h1M31 38h1M20 39h1M33 39h1M45 39h1M48 39h2M54 39h1M28 40h1M46 40h1M48 40h1M60 40h1M5 41h1M8 41h1M17 41h1M19 41h1M58 41h1M25 42h1M30 42h2M43 42h1M45 42h1M12 43h1M18 43h2M27 43h2M57 43h1M7 44h1M16 44h1M10 45h1M13 45h1M15 45h2M22 45h1M13 46h1M48 46h1M32 47h1M52 47h1M1 48h1M15 48h1M25 48h1M31 48h1M33 48h1M53 48h1M58 48h1M26 49h1M36 49h1M38 49h1M45 49h1M59 49h1M18 50h1M22 50h1M32 50h1M35 50h2M52 50h1M8 51h1M14 51h1M17 51h1M31 51h1M37 51h1M58 51h1M25 52h1M6 53h1M52 53h2M5 54h1M19 54h1M21 54h1M25 54h1M34 54h1M48 54h1M62 54h1M0 55h1M13 55h1M27 55h1M30 55h2M34 55h1M39 55h1M41 55h1M44 55h1M47 55h1M55 55h1M13 56h1M26 56h1M30 56h1M40 56h1M46 56h3M1 57h1M10 57h1M19 57h1M23 57h1M29 57h1M33 57h1M35 57h1M2 58h2M13 58h1M16 58h1M24 58h1M33 58h2M36 58h1M45 58h1M0 59h1M7 59h1M9 59h1M14 59h1M30 59h2M54 59h1M63 59h1M7 60h1M47 60h1M56 60h2M60 60h1M0 61h1M8 61h2M37 61h1M59 61h1M63 61h1M1 62h1M15 62h1M17 62h1M20 62h1M40 62h1M58 62h1M7 63h1M12 63h1M38 63h1M56 63h1"/>
<path stroke="#adb1b6" d="M4 0h1M15 0h1M25 0h2M33 0h1M37 0h1M40 0h1M42 0h1M51 0h1M58 0h2M2 1h1M8 1h1M17 1h1M20 1h1M27 1h1M38 1h1M44 1h1M48 1h2M62 1h1M0 2h4M13 2h3M25 2h1M31 2h1M43 2h1M62 2h1M2 3h2M7 3h1M22 3h1M35 3h1M44 3h1M48 3h1M54 3h1M7 4h2M12 4h1M15 4h4M25 4h1M37 4h1M60 4h2M16 5h2M28 5h1M49 5h1M63 5h1M13 6h1M21 6h1M28 6h2M35 6h1M39 6h1M42 6h1M53 6h1M60 6h1M63 6h1M18 7h1M30 7h1M33 7h1M37 7h1M40 7h1M42 7h1M58 7h1M60 7h1M62 7h1M3 8h2M6 8h1M9 8h1M15 8h1M19 8h1M22 8h1M26 8h1M29 8h1M37 8h1M40 8h1M42 8h1M45 8h1M47 8h1M1 9h1M6 9h1M0 10h1M4 10h1M27 10h1M37 10h1M40 10h1M46 10h3M61 10h2M4 11h1M10 11h1M16 11h1M40 11h1M43 11h1M48 11h1M55 11h1M62 11h1M10 12h2M14 12h2M21 12h1M33 12h1M40 12h1M57 12h2M36 13h1M47 13h1M57 13h1M3 14h2M19 14h1M21 14h1M56 14h1M2 15h1M11 15h1M24 15h1M31 15h1M43 15h1M11 16h1M13 16h1M19 16h1M26 16h1M31 16h1M40 16h1M44 16h1M46 16h1M51 16h1M63 16h1M2 17h1M13 17h1M17 17h2M22 17h1M28 17h1M34 17h1M36 17h1M40 17h1M44 17h1M47 17h2M15 18h1M17 18h1M28 18h1M38 18h1M50 18h1M53 18h1M57 18h2M60 18h2M7 19h1M18 19h1M30 19h1M45 19h1M56 19h2M15 20h2M24 20h2M29 20h1M37 20h1M48 20h2M5 21h2M20 21h1M44 21h2M49 21h1M52 21h1M59 21h2M62 21h2M4 22h1M10 22h1M19 22h1M23 22h1M42 22h1M52 22h1M61 22h1M63 22h1M5 23h1M7 23h1M11 23h1M25 23h1M28 23h1M35 23h2M38 23h1M43 23h1M52 23h1M57 23h1M8 24h1M28 24h1M33 24h2M38 24h1M45 24h1M58 24h2M11 25h1M23 25h1M39 25h1M50 25h1M55 25h1M1 26h1M24 26h1M28 26h1M37 26h1M43 26h2M50 26h1M38 27h1M41 27h1M59 27h1M62 27h1M2 28h1M4 28h1M10 28h1M14 28h1M19 28h1M28 28h1M39 28h1M42 28h2M45 28h1M21 29h2M25 29h1M27 29h2M31 29h1M37 29h1M50 29h1M54 29h1M57 29h1M7 30h1M18 30h2M49 30h1M51 30h1M54 30h1M6 31h1M21 31h1M39 31h1M42 31h2M57 31h1M60 31h1M8 32h1M16 32h1M29 32h1M37 32h1M45 32h1M52 32h1M56 32h1M7 33h2M11 33h1M36 33h1M45 33h1M56 33h1M60 33h1M62 33h1M7 34h1M11 34h1M13 34h1M19 34h1M42 34h1M52 34h1M57 34h1M63 34h1M6 35h1M29 35h1M40 35h1M45 35h2M49 35h1M63 35h1M13 36h1M23 36h1M28 36h1M31 36h1M42 36h2M59 36h3M10 37h1M23 37h1M27 37h1M35 37h1M53 37h1M59 37h1M2 38h1M14 38h1M20 38h2M24 38h2M30 38h1M33 38h2M56 38h1M6 39h1M18 39h1M21 39h1M35 39h1M22 40h1M24 40h1M61 40h1M10 41h1M27 41h1M29 41h1M36 41h2M47 41h1M60 41h2M10 42h1M16 42h1M26 42h1M44 42h1M57 42h1M15 43h1M25 43h1M31 43h1M35 43h1M41 43h2M47 43h2M50 43h1M20 44h1M28 44h1M42 44h1M48 44h1M62 44h1M18 45h1M21 45h1M45 45h1M50 45h1M0 46h3M15 46h1M17 46h1M27 46h2M63 46h1M5 47h1M15 47h1M21 47h1M28 47h1M42 47h1M45 47h1M50 48h1M52 48h1M55 48h1M62 48h1M3 49h1M5 49h1M11 49h1M16 49h1M19 49h1M25 49h1M32 49h1M34 49h1M49 49h1M53 49h1M60 49h1M19 50h1M28 50h3M37 50h1M49 50h1M56 50h2M59 50h1M21 51h1M30 51h1M32 51h1M34 51h1M40 51h1M8 52h1M11 52h1M16 52h1M19 52h1M32 52h1M35 52h2M56 52h1M58 52h2M4 53h1M8 53h1M16 53h1M27 53h1M30 53h1M37 53h1M56 53h2M60 53h2M63 53h1M12 54h1M14 54h1M22 54h2M35 54h2M38 54h2M41 54h1M47 54h1M51 54h1M53 54h1M60 54h1M4 55h1M14 55h1M16 55h1M23 55h1M35 55h1M45 55h2M48 55h1M60 55h1M62 55h1M3 56h1M9 56h1M11 56h1M25 56h1M29 56h1M31 56h1M35 56h1M43 56h1M49 56h1M52 56h1M0 57h1M11 57h2M25 57h1M30 57h2M41 57h1M43 57h1M47 57h1M62 57h1M5 58h1M7 58h1M20 58h1M25 58h1M32 58h1M35 58h1M38 58h3M50 58h1M60 58h1M63 58h1M12 59h1M16 59h2M46 59h1M48 59h1M50 59h2M62 59h1M14 60h1M34 60h1M40 60h1M49 60h2M55 60h1M59 60h1M62 60h1M2 61h1M15 61h1M17 61h1M19 61h1M33 61h1M41 61h1M55 61h1M2 62h1M11 62h1M52 62h1M55 62h1M3 63h1M32 63h1M39 63h1M43 63h1M45 63h1M49 63h1M55 63h1"/>
<path stroke="#c1c5ca" d="M0 0h1M3 0h1M5 0h1M23 0h1M29 0h2M32 0h1M39 0h1M47 0h1M9 1h1M14 1h1M24 1h2M29 1h2M50 1h2M19 2h1M23 2h1M27 2h1M45 2h1M51 2h1M59 2h2M4 3h1M14 3h3M20 3h1M23 3h2M26 3h3M33 3h1M42 3h1M1 4h1M6 4h1M10 4h1M19 4h1M27 4h1M39 4h1M41 4h1M43 4h1M45 4h1M47 4h1M52 4h2M57 4h1M4 5h1M8 5h1M15 5h1M18 5h1M21 5h1M23 5h1M31 5h1M34 5h1M42 5h2M48 5h1M53 5h1M56 5h1M59 5h1M61 5h1M11 6h1M18 6h1M24 6h1M36 6h1M0 7h1M3 7h1M7 7h1M10 7h1M14 7h1M16 7h2M26 7h1M31 7h1M36 7h1M45 7h1M50 7h3M55 7h1M8 8h1M21 8h1M25 8h1M33 8h1M36 8h1M38 8h1M46 8h1M48 8h1M54 8h1M59 8h2M3 9h1M12 9h2M15 9h1M20 9h1M24 9h1M31 9h1M49 9h3M57 9h1M59 9h2M8 10h1M11 10h1M18 10h1M25 10h1M33 10h2M36 10h1M39 10h1M43 10h1M50 10h3M59 10h1M27 11h2M30 11h2M35 11h1M44 11h3M57 11h1M2 12h1M9 12h1M22 12h1M25 12h1M30 12h1M32 12h1M35 12h1M47 12h1M52 12h1M54 12h1M5 13h1M19 13h2M31 13h1M33 13h2M52 13h1M60 13h1M62 13h1M0 14h3M13 14h1M32 14h1M61 14h1M63 14h1M0 15h2M20 15h1M37 15h1M40 15h1M42 15h1M44 15h1M52 15h1M56 15h1M60 15h1M62 15h1M1 16h1M4 16h2M9 16h1M30 16h1M33 16h1M41 16h1M8 17h2M20 17h1M23 17h1M27 17h1M30 17h1M32 17h1M38 17h1M41 17h1M50 17h1M54 17h1M62 17h1M3 18h2M8 18h1M14 18h1M18 18h1M22 18h1M29 18h1M43 18h1M56 18h1M3 19h1M9 19h1M20 19h1M22 19h1M26 19h1M29 19h1M32 19h1M44 19h1M46 19h1M53 19h1M55 19h1M2 20h1M4 20h1M6 20h1M8 20h1M14 20h1M35 20h1M41 20h1M46 20h1M52 20h2M62 20h1M0 21h1M4 21h1M12 21h1M21 21h1M29 21h1M32 21h1M11 22h1M17 22h1M24 22h1M26 22h1M35 22h1M45 22h1M50 22h1M54 22h1M57 22h1M3 23h2M12 23h1M17 23h1M19 23h1M39 23h2M51 23h1M54 23h1M58 23h2M2 24h1M12 24h1M14 24h1M16 24h1M31 24h2M35 24h1M51 24h1M54 24h3M2 25h1M30 25h1M46 25h1M56 25h1M58 25h2M61 25h1M3 26h1M8 26h1M12 26h1M16 26h1M18 26h1M21 26h1M27 26h1M48 26h1M52 26h3M58 26h1M3 27h1M8 27h1M21 27h1M28 27h1M30 27h1M43 27h1M56 27h1M1 28h1M7 28h1M13 28h1M20 28h1M32 28h4M46 28h1M62 28h1M23 29h2M32 29h1M38 29h1M42 29h1M46 29h3M62 29h2M3 30h1M24 30h1M26 30h1M30 30h1M33 30h2M36 30h1M40 30h1M47 30h2M50 30h1M7 31h1M14 31h2M19 31h1M23 31h2M45 31h1M49 31h1M51 31h1M53 31h3M63 31h1M0 32h2M5 32h1M9 32h5M19 32h1M21 32h1M26 32h2M31 32h1M36 32h1M40 32h1M46 32h1M50 32h1M58 32h2M4 33h2M16 33h1M19 33h1M21 33h2M24 33h1M27 33h1M29 33h1M35 33h1M38 33h1M48 33h1M61 33h1M3 34h1M36 34h1M43 34h1M61 34h2M9 35h1M14 35h2M17 35h1M33 35h1M35 35h1M38 35h2M43 35h1M56 35h1M58 35h1M1 36h1M6 36h1M12 36h1M34 36h1M41 36h1M62 36h1M11 37h2M14 37h1M28 37h1M46 37h1M54 37h1M56 37h1M0 38h2M3 38h2M7 38h1M9 38h1M13 38h1M15 38h1M23 38h1M28 38h1M43 38h1M2 39h2M5 39h1M7 39h1M10 39h1M15 39h1M26 39h1M36 39h3M40 39h2M60 39h1M5 40h1M10 40h1M29 40h1M32 40h1M36 40h1M42 40h1M51 40h1M1 41h1M4 41h1M23 41h2M32 41h1M40 41h1M42 41h1M54 41h1M56 41h1M11 42h1M13 42h3M19 42h1M29 42h1M38 42h2M48 42h2M52 42h1M56 42h1M58 42h1M60 42h2M9 43h1M13 43h2M32 43h1M51 43h2M59 43h2M1 44h2M15 44h1M21 44h2M25 44h2M30 44h1M41 44h1M44 44h1M53 44h2M63 44h1M7 45h1M12 45h1M20 45h1M24 45h1M29 45h1M38 45h1M42 45h1M49 45h1M58 45h2M3 46h1M29 46h1M35 46h1M38 46h1M43 46h2M46 46h1M49 46h2M52 46h1M57 46h1M62 46h1M6 47h1M10 47h1M12 47h2M20 47h1M23 47h1M25 47h1M29 47h2M49 47h1M57 47h1M7 48h1M11 48h1M20 48h1M22 48h2M28 48h1M45 48h1M56 48h2M1 49h1M4 49h1M10 49h1M20 49h4M29 49h1M39 49h1M46 49h1M48 49h1M51 49h1M56 49h1M58 49h1M62 49h2M7 50h2M14 50h2M21 50h1M27 50h1M43 50h1M47 50h1M55 50h1M60 50h1M0 51h1M2 51h1M9 51h2M13 51h1M27 51h3M36 51h1M43 51h1M48 51h1M54 51h1M59 51h1M1 52h1M3 52h3M21 52h3M28 52h1M50 52h2M54 52h1M63 52h1M3 53h1M9 53h3M17 53h2M31 53h1M34 53h1M39 53h1M41 53h1M48 53h1M54 53h1M2 54h1M9 54h1M26 54h1M31 54h2M43 54h2M49 54h2M54 54h1M5 55h1M17 55h1M19 55h1M21 55h1M28 55h1M33 55h1M0 56h1M16 56h1M39 56h1M44 56h1M54 56h1M56 56h1M58 56h1M61 56h1M63 56h1M16 57h2M28 57h1M38 57h1M42 57h1M53 57h1M55 57h1M6 58h1M8 58h1M15 58h1M26 58h1M30 58h1M37 58h1M43 58h1M53 58h1M57 58h3M1 59h1M4 59h1M23 59h1M25 59h1M38 59h2M49 59h1M12 60h1M18 60h1M26 60h1M29 60h1M36 60h1M38 60h1M41 60h1M7 61h1M10 61h1M14 61h1M25 61h2M32 61h1M43 61h1M56 61h2M62 61h1M7 62h1M9 62h1M12 62h1M22 62h1M27 62h2M32 62h1M41 62h1M53 62h2M1 63h1M10 63h1M14 63h1M16 63h1M23 63h2M27 63h2M30 63h1M33 63h1M37 63h1M42 63h1M46 63h1M53 63h1M57 63h2"/>
<path stroke="#cbcfd4" d="M10 0h1M17 0h1M22 0h1M46 0h1M50 0h1M54 0h1M61 0h1M63 0h1M10 1h1M19 1h1M22 1h1M26 1h1M37 1h1M39 1h1M54 1h1M5 2h1M9 2h2M20 2h1M26 2h1M37 2h2M54 2h1M57 2h1M10 3h1M12 3h1M30 3h1M41 3h1M52 3h2M57 3h1M2 4h1M23 4h1M36 4h1M44 4h1M10 5h1M20 5h1M25 5h1M41 5h1M44 5h3M25 6h1M27 6h1M40 6h2M48 6h1M56 6h1M1 7h1M5 7h2M21 7h1M32 7h1M47 7h2M12 8h2M16 8h2M41 8h1M49 8h1M62 8h1M0 9h1M10 9h2M37 9h2M46 9h1M52 9h2M9 10h1M15 10h2M19 10h1M32 10h1M38 10h1M49 10h1M53 10h1M55 10h1M60 10h1M2 11h1M11 11h1M13 11h1M15 11h1M26 11h1M47 11h1M4 12h1M8 12h1M18 12h1M27 12h1M29 12h1M36 12h1M60 12h1M63 12h1M2 13h1M4 13h1M8 13h1M21 13h1M23 13h1M27 13h1M29 13h1M35 13h1M58 13h2M10 14h1M14 14h1M16 14h1M30 14h1M33 14h3M44 14h1M54 14h1M57 14h1M9 15h2M13 15h1M16 15h1M21 15h1M35 15h1M38 15h1M59 15h1M2 16h1M8 16h1M20 16h3M34 16h1M36 16h1M38 16h1M42 16h2M55 16h1M62 16h1M3 17h1M14 17h3M21 17h1M24 17h1M26 17h1M43 17h1M49 17h1M6 18h1M10 18h1M20 18h1M23 18h1M27 18h1M39 18h2M54 18h2M2 19h1M4 19h1M6 19h1M10 19h1M28 19h1M48 19h1M54 19h1M5 20h1M18 20h1M21 20h3M32 20h1M42 20h1M44 20h1M51 20h1M55 20h1M57 20h5M9 21h1M18 21h2M27 21h1M55 21h1M61 21h1M0 22h1M21 22h1M51 22h1M0 23h1M6 23h1M20 23h1M22 23h1M29 23h2M45 23h1M63 23h1M0 24h1M3 24h2M6 24h2M15 24h1M17 24h1M36 24h1M39 24h1M42 24h1M46 24h1M0 25h1M4 25h2M29 25h1M31 25h5M53 25h1M62 25h1M6 26h1M20 26h1M25 26h2M31 26h1M35 26h2M41 26h2M46 26h1M51 26h1M55 26h3M59 26h1M13 27h3M19 27h1M23 27h1M32 27h4M46 27h1M52 27h1M54 27h1M3 28h1M12 28h1M26 28h1M31 28h1M47 28h1M54 28h2M57 28h2M63 28h1M10 29h1M15 29h1M40 29h2M43 29h1M58 29h2M61 29h1M2 30h1M11 30h1M14 30h1M21 30h2M25 30h1M58 30h1M62 30h2M1 31h1M5 31h1M9 31h1M11 31h1M16 31h1M22 31h1M28 31h2M33 31h1M35 31h1M37 31h1M40 31h1M46 31h2M50 31h1M56 31h1M58 31h2M25 32h1M30 32h1M35 32h1M54 32h2M10 33h1M20 33h1M30 33h1M40 33h1M52 33h1M55 33h1M58 33h2M22 34h2M30 34h1M32 34h1M37 34h2M40 34h1M49 34h1M58 34h1M8 35h1M12 35h1M32 35h1M34 35h1M36 35h1M55 35h1M62 35h1M4 36h1M7 36h2M19 36h1M32 36h2M40 36h1M46 36h2M56 36h1M58 36h1M0 37h1M3 37h1M16 37h2M34 37h1M43 37h1M47 37h1M8 38h1M16 38h1M26 38h2M40 38h2M55 38h1M57 38h1M60 38h1M9 39h1M14 39h1M16 39h2M30 39h1M39 39h1M47 39h1M52 39h1M55 39h1M2 40h1M12 40h1M15 40h1M33 40h1M37 40h1M40 40h2M43 40h1M50 40h1M58 40h1M7 41h1M9 41h1M25 41h1M34 41h1M44 41h1M49 41h1M62 41h1M3 42h3M8 42h1M22 42h1M37 42h1M47 42h1M55 42h1M59 42h1M0 43h1M6 43h2M10 43h1M26 43h1M29 43h1M34 43h1M53 43h2M61 43h1M8 44h1M33 44h2M40 44h1M49 44h1M55 44h1M59 44h1M9 45h1M14 45h1M39 45h3M44 45h1M60 45h2M5 46h2M12 46h1M31 46h1M33 46h1M36 46h1M45 46h1M55 46h2M3 47h1M8 47h2M11 47h1M33 47h1M46 47h3M2 48h1M6 48h1M8 48h2M13 48h2M18 48h2M21 48h1M29 48h1M46 48h1M61 48h1M0 49h1M7 49h1M14 49h1M31 49h1M42 49h1M50 49h1M54 49h1M0 50h2M3 50h3M9 50h1M16 50h1M24 50h1M38 50h2M41 50h1M45 50h1M48 50h1M1 51h1M3 51h1M5 51h2M25 51h2M35 51h1M44 51h2M55 51h1M60 51h2M63 51h1M6 52h1M18 52h1M47 52h3M60 52h1M62 52h1M22 53h1M33 53h1M35 53h2M38 53h1M44 53h1M47 53h1M49 53h1M55 53h1M6 54h3M10 54h1M33 54h1M56 54h1M6 55h1M11 55h1M15 55h1M18 55h1M36 55h1M42 55h1M50 55h1M57 55h1M61 55h1M1 56h2M27 56h1M50 56h1M57 56h1M8 57h1M14 57h1M37 57h1M39 57h1M44 57h2M57 57h2M63 57h1M4 58h1M9 58h1M12 58h1M22 58h1M28 58h1M51 58h2M55 58h1M2 59h2M10 59h1M15 59h1M18 59h1M37 59h1M40 59h1M47 59h1M61 59h1M6 60h1M10 60h2M19 60h1M27 60h2M30 60h1M32 60h1M39 60h1M42 60h1M52 60h1M54 60h1M20 61h1M24 61h1M31 61h1M36 61h1M38 61h2M50 61h1M3 62h1M6 62h1M23 62h2M33 62h1M36 62h1M43 62h1M47 62h3M5 63h1M29 63h1M36 63h1M47 63h1M50 63h1M59 63h4"/>
<path stroke="#d5d9de" d="M1 0h1M35 0h2M44 0h1M23 1h1M31 1h1M11 2h1M16 2h1M29 2h2M56 2h1M61 2h1M5 3h2M34 3h1M36 3h3M45 3h1M3 4h3M20 4h1M22 4h1M24 4h1M29 4h1M33 4h2M2 5h1M7 5h1M22 5h1M26 5h2M40 5h1M52 5h1M60 5h1M62 5h1M5 6h1M26 6h1M32 6h1M45 6h1M47 6h1M55 6h1M20 7h1M24 7h1M35 7h1M46 7h1M49 7h1M59 7h1M11 8h1M14 8h1M24 8h1M43 8h1M63 8h1M9 9h1M16 9h1M18 9h1M10 10h1M20 10h1M54 10h1M56 10h1M52 11h1M0 12h2M23 12h1M43 12h1M46 12h1M59 12h1M1 13h1M15 13h1M18 13h1M32 13h1M43 13h2M53 13h1M15 14h1M22 14h2M58 14h1M30 15h1M34 15h1M36 15h1M53 15h1M57 15h1M14 16h1M24 16h1M37 16h1M52 16h1M56 16h2M4 17h1M6 17h1M31 17h1M42 17h1M53 17h1M55 17h1M11 18h2M21 18h1M49 18h1M8 19h1M40 19h4M11 20h1M28 20h1M47 20h1M8 21h1M17 21h1M22 21h5M50 21h2M54 21h1M1 22h1M3 22h1M22 22h1M37 22h1M39 22h1M44 22h1M60 22h1M31 23h1M53 23h1M13 24h1M18 24h1M41 24h1M62 24h2M3 25h1M6 25h2M14 25h1M51 25h1M5 26h1M11 26h1M13 26h2M19 26h1M32 26h1M47 26h1M49 26h1M4 27h2M11 27h1M16 27h1M31 27h1M42 27h1M55 27h1M58 27h1M8 28h1M16 28h1M52 28h1M61 28h1M0 29h1M2 29h1M7 29h2M11 29h1M17 29h1M45 29h1M15 30h2M20 30h1M27 30h1M29 30h1M31 30h1M59 30h2M0 31h1M10 31h1M20 31h1M48 31h1M2 32h1M18 32h1M22 32h1M24 32h1M32 32h1M48 32h1M53 32h1M3 33h1M34 33h1M53 33h1M31 34h1M33 34h1M35 34h1M55 34h1M16 35h1M23 35h1M30 35h2M37 35h1M48 35h1M53 35h2M2 36h1M5 36h1M16 36h1M48 36h1M54 36h1M63 36h1M5 37h1M31 37h1M48 37h1M55 37h1M58 38h2M0 39h2M4 39h1M59 39h1M62 39h1M0 40h2M4 40h1M6 40h2M34 40h1M38 40h1M62 40h1M2 41h2M13 41h2M22 41h1M26 41h1M33 41h1M38 41h1M43 41h1M50 41h1M23 42h2M34 42h3M50 42h1M53 42h1M62 42h1M5 43h1M22 43h1M30 43h1M33 43h1M62 43h2M13 44h1M23 44h1M38 44h1M61 44h1M1 45h2M25 45h1M30 45h1M63 45h1M8 46h1M18 46h2M26 46h1M34 46h1M42 46h1M58 46h1M19 47h1M35 47h2M60 47h3M34 48h1M36 48h1M39 48h1M2 49h1M6 49h1M6 50h1M26 50h1M42 50h1M50 50h1M61 50h1M46 51h1M51 51h2M40 52h1M42 52h3M40 53h1M43 53h1M17 54h1M42 54h1M46 54h1M57 54h2M2 55h2M7 55h1M9 55h2M22 55h1M49 55h1M58 55h1M8 56h1M18 56h2M28 56h1M37 56h1M42 56h1M53 56h1M6 57h2M15 57h1M18 57h1M27 57h1M51 57h2M54 57h1M14 58h1M23 58h1M27 58h1M54 58h1M11 59h1M27 59h2M42 59h1M59 59h1M3 60h2M16 60h1M20 60h2M31 60h1M61 60h1M3 61h1M12 61h2M52 61h1M61 61h1M0 62h1M4 62h1M10 62h1M39 62h1M51 62h1M61 62h3"/>
<path stroke="#dfe3e8" d="M31 0h1M34 0h1M41 0h1M40 1h1M61 1h1M17 2h1M42 2h1M52 2h1M11 3h1M29 3h1M39 3h2M21 4h1M1 5h1M5 5h2M9 5h1M32 5h2M47 5h1M54 5h1M1 6h1M8 6h1M46 6h1M41 7h1M54 7h1M0 8h1M34 8h2M8 9h1M54 9h1M17 10h1M30 10h1M12 11h1M54 11h1M44 12h1M53 12h1M61 12h1M9 13h2M28 13h1M42 13h1M61 13h1M14 15h1M22 15h1M33 15h1M58 15h1M53 16h1M58 16h2M26 18h1M21 19h1M27 19h1M31 19h1M47 19h1M1 20h1M12 20h1M26 20h1M36 20h1M54 20h1M1 21h2M25 22h1M30 22h1M36 22h1M58 22h2M2 23h1M44 23h1M40 24h1M44 24h1M15 25h1M36 25h1M41 25h1M7 26h1M34 26h1M12 27h1M24 27h1M26 27h1M47 27h2M51 27h1M61 27h1M15 28h1M48 28h1M51 28h1M60 28h1M1 29h1M3 29h1M60 29h1M0 30h1M13 30h1M28 30h1M32 30h1M12 31h2M31 31h2M34 31h1M36 31h1M20 32h1M33 32h1M49 32h1M17 33h1M2 34h1M17 34h1M34 34h1M39 34h1M3 35h1M22 35h1M44 35h1M61 35h1M14 36h2M55 36h1M15 37h1M33 37h1M40 37h3M17 38h1M42 38h1M13 39h1M46 39h1M56 39h1M14 40h1M35 40h1M57 40h1M6 41h1M53 41h1M1 42h2M32 42h1M1 43h2M4 43h1M8 43h1M14 44h1M52 44h1M60 44h1M23 45h1M32 45h1M4 46h1M14 46h1M25 46h1M30 46h1M4 47h1M14 47h1M18 47h1M34 47h1M38 47h1M41 47h1M58 47h2M10 48h1M35 48h1M38 48h1M41 48h1M8 49h2M40 49h2M55 49h1M57 49h1M2 50h1M25 50h1M40 50h1M46 50h1M51 50h1M63 50h1M10 52h1M55 52h1M42 53h1M18 54h1M45 54h1M10 58h2M20 59h1M22 59h1M26 59h1M36 59h1M43 59h1M60 59h1M22 60h1M53 60h1M4 61h1M22 61h2M53 61h2M50 62h1M0 63h1M41 63h1M44 63h1M63 63h1"/>
<path stroke="#e9edf2" d="M11 1h1M42 1h1M39 2h1M24 5h1M2 6h1M54 6h1M2 7h1M55 9h2M31 10h1M5 12h1M45 12h1M22 13h1M15 15h1M23 15h1M15 16h1M11 19h2M27 20h1M36 21h1M21 23h1M16 25h1M40 25h1M33 26h1M60 26h1M25 27h1M50 27h1M57 27h1M60 27h1M0 28h1M50 28h1M12 29h1M16 29h1M1 30h1M12 30h1M30 31h1M34 32h1M2 33h1M39 33h1M49 33h1M16 34h1M44 34h1M2 35h1M3 36h1M32 37h1M58 39h1M9 40h1M13 40h1M39 40h1M52 40h1M63 40h1M39 41h1M52 41h1M7 42h1M51 42h1M3 43h1M24 43h1M29 44h1M8 45h1M33 45h2M41 46h1M40 47h1M56 47h1M40 48h1M62 50h1M24 52h1M45 52h1M45 53h1M8 55h1M21 58h1M5 61h2M29 61h1M51 61h1M5 62h1M13 62h1M29 62h1M34 62h1M34 63h2"/>
<path stroke="#f3f7fc" d="M6 6h2M17 9h1M53 11h1M1 19h1M49 27h1M49 28h1M18 33h1M57 39h1M56 40h1M51 41h1M6 42h1M33 42h1M23 43h1M40 46h1M62 51h1M46 52h1M24 53h1M46 53h1M21 59h1M15 60h1"/>
<path stroke="#fdffff" d="M11 0h1M41 1h1M41 2h1M9 6h1M28 12h1M16 16h1M23 16h1M2 22h1M54 42h1M39 47h1M23 53h1M30 62h1"/>
<path stroke="#ffffff" d="M40 2h1M10 6h1M39 46h1M30 61h1"/>
</g></pattern>
<pattern id="p_det" patternUnits="userSpaceOnUse" width="1000" height="741"><rect width="1000" height="741" fill="#4a2e1b" filter="url(#f_det)"/></pattern>
</defs>
<rect width="1000" height="741" fill="#fff"/>

<rect x="30.5" y="10.5" width="472.0" height="347.0" fill="#fff" stroke="#9c9c9c" stroke-width="1.3"/>
<rect x="89.75" y="156.3" width="31.75" height="7.5" fill="#00b050"/>
<rect x="89.75" y="163.8" width="31.75" height="31.2" fill="url(#p_det)"/>
<rect x="89.75" y="195" width="31.75" height="45.6" fill="url(#p_soil)"/>
<rect x="169.5" y="113.8" width="32.0" height="73.2" fill="#00b050"/>
<rect x="169.5" y="187" width="32.0" height="13.8" fill="url(#p_det)"/>
<rect x="169.5" y="200.8" width="32.0" height="39.8" fill="url(#p_soil)"/>
<rect x="329.5" y="135" width="32.25" height="21" fill="#00b050"/>
<rect x="329.5" y="156" width="32.25" height="39" fill="url(#p_det)"/>
<rect x="329.5" y="195" width="32.25" height="45.6" fill="url(#p_soil)"/>
<rect x="329.5" y="240.6" width="32.25" height="28.9" fill="url(#p_deep)"/>
<rect x="409.0" y="43.8" width="32.75" height="95.2" fill="#00b050"/>
<rect x="409.0" y="139" width="32.75" height="40" fill="url(#p_det)"/>
<rect x="409.0" y="179" width="32.75" height="61.6" fill="url(#p_soil)"/>
<rect x="409.0" y="240.6" width="32.75" height="16.2" fill="url(#p_deep)"/>
<path d="M65.5 17.5V315.0M61.9 17.5H65.5M61.9 54.69H65.5M61.9 91.88H65.5M61.9 129.07H65.5M61.9 166.26H65.5M61.9 203.45H65.5M61.9 240.64H65.5M61.9 277.83H65.5M61.9 315.02H65.5M65.5 240.6H465.5M145.5 240.6V247.1M225.5 240.6V247.1M305.5 240.6V247.1M385.5 240.6V247.1M465.5 240.6V247.1" fill="none" stroke="#9c9c9c" stroke-width="1.3"/>
<text x="56.099999999999994" y="21.5" font-size="10" text-anchor="end" textLength="16.6" lengthAdjust="spacingAndGlyphs">300</text>
<text x="56.099999999999994" y="58.7" font-size="10" text-anchor="end" textLength="16.6" lengthAdjust="spacingAndGlyphs">250</text>
<text x="56.099999999999994" y="95.9" font-size="10" text-anchor="end" textLength="16.6" lengthAdjust="spacingAndGlyphs">200</text>
<text x="56.099999999999994" y="133.1" font-size="10" text-anchor="end" textLength="16.6" lengthAdjust="spacingAndGlyphs">150</text>
<text x="56.099999999999994" y="170.3" font-size="10" text-anchor="end" textLength="16.6" lengthAdjust="spacingAndGlyphs">100</text>
<text x="56.099999999999994" y="207.4" font-size="10" text-anchor="end" textLength="11.1" lengthAdjust="spacingAndGlyphs">50</text>
<text x="56.099999999999994" y="244.6" font-size="10" text-anchor="end" textLength="5.5" lengthAdjust="spacingAndGlyphs">0</text>
<text x="56.099999999999994" y="281.8" font-size="10" text-anchor="end" textLength="14.2" lengthAdjust="spacingAndGlyphs">-50</text>
<text x="56.099999999999994" y="319.0" font-size="10" text-anchor="end" textLength="19.8" lengthAdjust="spacingAndGlyphs">-100</text>
<text x="235.28" y="42" font-size="22.4" text-anchor="start" textLength="77.95" lengthAdjust="spacingAndGlyphs">Carbon</text>
<text x="87.72" y="351.6" font-size="18.8" text-anchor="start" textLength="35.47" lengthAdjust="spacingAndGlyphs">Fire</text>
<text x="156.22" y="351.6" font-size="18.8" text-anchor="start" textLength="58.47" lengthAdjust="spacingAndGlyphs">Forest</text>
<text x="328.22" y="351.6" font-size="18.8" text-anchor="start" textLength="35.47" lengthAdjust="spacingAndGlyphs">Fire</text>
<text x="396.72" y="351.6" font-size="18.8" text-anchor="start" textLength="58.47" lengthAdjust="spacingAndGlyphs">Forest</text>
<g transform="translate(20.3 203.3) rotate(-90)"><text x="0" y="0" font-size="18.5" textLength="48.7" lengthAdjust="spacingAndGlyphs">Mg ha</text><text x="49.5" y="-5.9" font-size="11.6" textLength="9.2" lengthAdjust="spacingAndGlyphs">-1</text></g>
<g fill="#000"><path transform="translate(208.5 139.2)" d="M-0.55 0.30L-1.00 -3.75A1 1 0 0 1 1.00 -3.75L0.55 0.30ZM-0.53 -0.33L2.75 -2.74A1 1 0 0 1 3.75 -1.01L0.02 0.63ZM0.02 -0.63L3.75 1.01A1 1 0 0 1 2.75 2.74L-0.53 0.33ZM0.55 -0.30L1.00 3.75A1 1 0 0 1 -1.00 3.75L-0.55 -0.30ZM0.53 0.33L-2.75 2.74A1 1 0 0 1 -3.75 1.01L-0.02 -0.63ZM-0.02 0.63L-3.75 -1.01A1 1 0 0 1 -2.75 -2.74L0.53 -0.33Z"/><path transform="translate(221.3 139.2)" d="M-0.55 0.30L-1.00 -3.75A1 1 0 0 1 1.00 -3.75L0.55 0.30ZM-0.53 -0.33L2.75 -2.74A1 1 0 0 1 3.75 -1.01L0.02 0.63ZM0.02 -0.63L3.75 1.01A1 1 0 0 1 2.75 2.74L-0.53 0.33ZM0.55 -0.30L1.00 3.75A1 1 0 0 1 -1.00 3.75L-0.55 -0.30ZM0.53 0.33L-2.75 2.74A1 1 0 0 1 -3.75 1.01L-0.02 -0.63ZM-0.02 0.63L-3.75 -1.01A1 1 0 0 1 -2.75 -2.74L0.53 -0.33Z"/><path transform="translate(234.1 139.2)" d="M-0.55 0.30L-1.00 -3.75A1 1 0 0 1 1.00 -3.75L0.55 0.30ZM-0.53 -0.33L2.75 -2.74A1 1 0 0 1 3.75 -1.01L0.02 0.63ZM0.02 -0.63L3.75 1.01A1 1 0 0 1 2.75 2.74L-0.53 0.33ZM0.55 -0.30L1.00 3.75A1 1 0 0 1 -1.00 3.75L-0.55 -0.30ZM0.53 0.33L-2.75 2.74A1 1 0 0 1 -3.75 1.01L-0.02 -0.63ZM-0.02 0.63L-3.75 -1.01A1 1 0 0 1 -2.75 -2.74L0.53 -0.33Z"/><path transform="translate(208.5 198.7)" d="M-0.55 0.30L-1.00 -3.75A1 1 0 0 1 1.00 -3.75L0.55 0.30ZM-0.53 -0.33L2.75 -2.74A1 1 0 0 1 3.75 -1.01L0.02 0.63ZM0.02 -0.63L3.75 1.01A1 1 0 0 1 2.75 2.74L-0.53 0.33ZM0.55 -0.30L1.00 3.75A1 1 0 0 1 -1.00 3.75L-0.55 -0.30ZM0.53 0.33L-2.75 2.74A1 1 0 0 1 -3.75 1.01L-0.02 -0.63ZM-0.02 0.63L-3.75 -1.01A1 1 0 0 1 -2.75 -2.74L0.53 -0.33Z"/><path transform="translate(221.3 198.7)" d="M-0.55 0.30L-1.00 -3.75A1 1 0 0 1 1.00 -3.75L0.55 0.30ZM-0.53 -0.33L2.75 -2.74A1 1 0 0 1 3.75 -1.01L0.02 0.63ZM0.02 -0.63L3.75 1.01A1 1 0 0 1 2.75 2.74L-0.53 0.33ZM0.55 -0.30L1.00 3.75A1 1 0 0 1 -1.00 3.75L-0.55 -0.30ZM0.53 0.33L-2.75 2.74A1 1 0 0 1 -3.75 1.01L-0.02 -0.63ZM-0.02 0.63L-3.75 -1.01A1 1 0 0 1 -2.75 -2.74L0.53 -0.33Z"/><path transform="translate(234.1 198.7)" d="M-0.55 0.30L-1.00 -3.75A1 1 0 0 1 1.00 -3.75L0.55 0.30ZM-0.53 -0.33L2.75 -2.74A1 1 0 0 1 3.75 -1.01L0.02 0.63ZM0.02 -0.63L3.75 1.01A1 1 0 0 1 2.75 2.74L-0.53 0.33ZM0.55 -0.30L1.00 3.75A1 1 0 0 1 -1.00 3.75L-0.55 -0.30ZM0.53 0.33L-2.75 2.74A1 1 0 0 1 -3.75 1.01L-0.02 -0.63ZM-0.02 0.63L-3.75 -1.01A1 1 0 0 1 -2.75 -2.74L0.53 -0.33Z"/><path transform="translate(446.0 97.5)" d="M-0.55 0.30L-1.00 -3.75A1 1 0 0 1 1.00 -3.75L0.55 0.30ZM-0.53 -0.33L2.75 -2.74A1 1 0 0 1 3.75 -1.01L0.02 0.63ZM0.02 -0.63L3.75 1.01A1 1 0 0 1 2.75 2.74L-0.53 0.33ZM0.55 -0.30L1.00 3.75A1 1 0 0 1 -1.00 3.75L-0.55 -0.30ZM0.53 0.33L-2.75 2.74A1 1 0 0 1 -3.75 1.01L-0.02 -0.63ZM-0.02 0.63L-3.75 -1.01A1 1 0 0 1 -2.75 -2.74L0.53 -0.33Z"/><path transform="translate(458.8 97.5)" d="M-0.55 0.30L-1.00 -3.75A1 1 0 0 1 1.00 -3.75L0.55 0.30ZM-0.53 -0.33L2.75 -2.74A1 1 0 0 1 3.75 -1.01L0.02 0.63ZM0.02 -0.63L3.75 1.01A1 1 0 0 1 2.75 2.74L-0.53 0.33ZM0.55 -0.30L1.00 3.75A1 1 0 0 1 -1.00 3.75L-0.55 -0.30ZM0.53 0.33L-2.75 2.74A1 1 0 0 1 -3.75 1.01L-0.02 -0.63ZM-0.02 0.63L-3.75 -1.01A1 1 0 0 1 -2.75 -2.74L0.53 -0.33Z"/><path transform="translate(471.6 97.5)" d="M-0.55 0.30L-1.00 -3.75A1 1 0 0 1 1.00 -3.75L0.55 0.30ZM-0.53 -0.33L2.75 -2.74A1 1 0 0 1 3.75 -1.01L0.02 0.63ZM0.02 -0.63L3.75 1.01A1 1 0 0 1 2.75 2.74L-0.53 0.33ZM0.55 -0.30L1.00 3.75A1 1 0 0 1 -1.00 3.75L-0.55 -0.30ZM0.53 0.33L-2.75 2.74A1 1 0 0 1 -3.75 1.01L-0.02 -0.63ZM-0.02 0.63L-3.75 -1.01A1 1 0 0 1 -2.75 -2.74L0.53 -0.33Z"/><path transform="translate(446.0 207.5)" d="M-0.55 0.30L-1.00 -3.75A1 1 0 0 1 1.00 -3.75L0.55 0.30ZM-0.53 -0.33L2.75 -2.74A1 1 0 0 1 3.75 -1.01L0.02 0.63ZM0.02 -0.63L3.75 1.01A1 1 0 0 1 2.75 2.74L-0.53 0.33ZM0.55 -0.30L1.00 3.75A1 1 0 0 1 -1.00 3.75L-0.55 -0.30ZM0.53 0.33L-2.75 2.74A1 1 0 0 1 -3.75 1.01L-0.02 -0.63ZM-0.02 0.63L-3.75 -1.01A1 1 0 0 1 -2.75 -2.74L0.53 -0.33Z"/><path transform="translate(458.8 207.5)" d="M-0.55 0.30L-1.00 -3.75A1 1 0 0 1 1.00 -3.75L0.55 0.30ZM-0.53 -0.33L2.75 -2.74A1 1 0 0 1 3.75 -1.01L0.02 0.63ZM0.02 -0.63L3.75 1.01A1 1 0 0 1 2.75 2.74L-0.53 0.33ZM0.55 -0.30L1.00 3.75A1 1 0 0 1 -1.00 3.75L-0.55 -0.30ZM0.53 0.33L-2.75 2.74A1 1 0 0 1 -3.75 1.01L-0.02 -0.63ZM-0.02 0.63L-3.75 -1.01A1 1 0 0 1 -2.75 -2.74L0.53 -0.33Z"/><path transform="translate(471.6 207.5)" d="M-0.55 0.30L-1.00 -3.75A1 1 0 0 1 1.00 -3.75L0.55 0.30ZM-0.53 -0.33L2.75 -2.74A1 1 0 0 1 3.75 -1.01L0.02 0.63ZM0.02 -0.63L3.75 1.01A1 1 0 0 1 2.75 2.74L-0.53 0.33ZM0.55 -0.30L1.00 3.75A1 1 0 0 1 -1.00 3.75L-0.55 -0.30ZM0.53 0.33L-2.75 2.74A1 1 0 0 1 -3.75 1.01L-0.02 -0.63ZM-0.02 0.63L-3.75 -1.01A1 1 0 0 1 -2.75 -2.74L0.53 -0.33Z"/></g>
<rect x="73.5" y="37.3" width="11.7" height="11.7" fill="#00b050"/>
<rect x="73.5" y="58.9" width="11.7" height="11.7" fill="url(#p_det)"/>
<rect x="73.5" y="80.5" width="11.7" height="11.7" fill="url(#p_soil)"/>
<rect x="73.5" y="102.1" width="11.7" height="11.7" fill="url(#p_deep)"/>
<text x="89.9" y="48.7" font-size="16.2" text-anchor="start" textLength="87.3" lengthAdjust="spacingAndGlyphs">Vegetation</text>
<text x="89.9" y="70.3" font-size="16.2" text-anchor="start" textLength="64.7" lengthAdjust="spacingAndGlyphs">Detritus</text>
<text x="89.9" y="92.0" font-size="16.2" text-anchor="start" textLength="28.2" lengthAdjust="spacingAndGlyphs">Soil</text>
<text x="89.9" y="113.5" font-size="16.2" text-anchor="start" textLength="73.8" lengthAdjust="spacingAndGlyphs">Deep soil</text>
<rect x="534.5" y="4.5" width="459.0" height="353.0" fill="#fff" stroke="#9c9c9c" stroke-width="1.3"/>
<rect x="593.75" y="88" width="31.25" height="4.5" fill="#00b050"/>
<rect x="593.75" y="92.5" width="31.25" height="15.3" fill="url(#p_det)"/>
<rect x="593.75" y="107.8" width="31.25" height="85.5" fill="url(#p_soil)"/>
<rect x="671.25" y="99.3" width="31.5" height="10.2" fill="#00b050"/>
<rect x="671.25" y="109.5" width="31.5" height="7.3" fill="url(#p_det)"/>
<rect x="671.25" y="116.8" width="31.5" height="76.5" fill="url(#p_soil)"/>
<rect x="827.0" y="49.5" width="31.75" height="7.5" fill="#00b050"/>
<rect x="827.0" y="57" width="31.75" height="35.5" fill="url(#p_det)"/>
<rect x="827.0" y="92.5" width="31.75" height="100.8" fill="url(#p_soil)"/>
<rect x="827.0" y="193.3" width="31.75" height="90.5" fill="url(#p_deep)"/>
<rect x="905.0" y="29.3" width="31.25" height="24.7" fill="#00b050"/>
<rect x="905.0" y="54" width="31.25" height="33" fill="url(#p_det)"/>
<rect x="905.0" y="87" width="31.25" height="106.3" fill="url(#p_soil)"/>
<rect x="905.0" y="193.3" width="31.25" height="56.2" fill="url(#p_deep)"/>
<path d="M570.5 12.0V314.3M566.9 12.0H570.5M566.9 42.23H570.5M566.9 72.46H570.5M566.9 102.69H570.5M566.9 132.92H570.5M566.9 163.15H570.5M566.9 193.38H570.5M566.9 223.61H570.5M566.9 253.84H570.5M566.9 284.07H570.5M566.9 314.3H570.5M570.5 193.3H959.5M648.3 193.3V199.8M726.0 193.3V199.8M803.8 193.3V199.8M881.6 193.3V199.8M959.5 193.3V199.8" fill="none" stroke="#9c9c9c" stroke-width="1.3"/>
<text x="560.9" y="16.0" font-size="10" text-anchor="end" textLength="22.2" lengthAdjust="spacingAndGlyphs">6000</text>
<text x="560.9" y="46.2" font-size="10" text-anchor="end" textLength="22.2" lengthAdjust="spacingAndGlyphs">5000</text>
<text x="560.9" y="76.5" font-size="10" text-anchor="end" textLength="22.2" lengthAdjust="spacingAndGlyphs">4000</text>
<text x="560.9" y="106.7" font-size="10" text-anchor="end" textLength="22.2" lengthAdjust="spacingAndGlyphs">3000</text>
<text x="560.9" y="136.9" font-size="10" text-anchor="end" textLength="22.2" lengthAdjust="spacingAndGlyphs">2000</text>
<text x="560.9" y="167.2" font-size="10" text-anchor="end" textLength="22.2" lengthAdjust="spacingAndGlyphs">1000</text>
<text x="560.9" y="197.4" font-size="10" text-anchor="end" textLength="5.5" lengthAdjust="spacingAndGlyphs">0</text>
<text x="560.9" y="227.6" font-size="10" text-anchor="end" textLength="25.3" lengthAdjust="spacingAndGlyphs">-1000</text>
<text x="560.9" y="257.8" font-size="10" text-anchor="end" textLength="25.3" lengthAdjust="spacingAndGlyphs">-2000</text>
<text x="560.9" y="288.1" font-size="10" text-anchor="end" textLength="25.3" lengthAdjust="spacingAndGlyphs">-3000</text>
<text x="560.9" y="318.3" font-size="10" text-anchor="end" textLength="25.3" lengthAdjust="spacingAndGlyphs">-4000</text>
<text x="727.68" y="33.3" font-size="22.4" text-anchor="start" textLength="92.95" lengthAdjust="spacingAndGlyphs">Nitrogen</text>
<text x="592.02" y="351.6" font-size="18.8" text-anchor="start" textLength="34.47" lengthAdjust="spacingAndGlyphs">Fire</text>
<text x="658.72" y="351.6" font-size="18.8" text-anchor="start" textLength="56.97" lengthAdjust="spacingAndGlyphs">Forest</text>
<text x="825.72" y="351.6" font-size="18.8" text-anchor="start" textLength="34.97" lengthAdjust="spacingAndGlyphs">Fire</text>
<text x="893.02" y="351.6" font-size="18.8" text-anchor="start" textLength="56.97" lengthAdjust="spacingAndGlyphs">Forest</text>
<g transform="translate(520.3 189) rotate(-90)"><text x="0" y="0" font-size="18.5" textLength="42" lengthAdjust="spacingAndGlyphs">kg ha</text><text x="42.8" y="-5.9" font-size="11.6" textLength="9.2" lengthAdjust="spacingAndGlyphs">-1</text></g>
<g fill="#000"><path transform="translate(725.8 114.5)" d="M-0.55 0.30L-1.00 -3.75A1 1 0 0 1 1.00 -3.75L0.55 0.30ZM-0.53 -0.33L2.75 -2.74A1 1 0 0 1 3.75 -1.01L0.02 0.63ZM0.02 -0.63L3.75 1.01A1 1 0 0 1 2.75 2.74L-0.53 0.33ZM0.55 -0.30L1.00 3.75A1 1 0 0 1 -1.00 3.75L-0.55 -0.30ZM0.53 0.33L-2.75 2.74A1 1 0 0 1 -3.75 1.01L-0.02 -0.63ZM-0.02 0.63L-3.75 -1.01A1 1 0 0 1 -2.75 -2.74L0.53 -0.33Z"/><path transform="translate(738.6 114.5)" d="M-0.55 0.30L-1.00 -3.75A1 1 0 0 1 1.00 -3.75L0.55 0.30ZM-0.53 -0.33L2.75 -2.74A1 1 0 0 1 3.75 -1.01L0.02 0.63ZM0.02 -0.63L3.75 1.01A1 1 0 0 1 2.75 2.74L-0.53 0.33ZM0.55 -0.30L1.00 3.75A1 1 0 0 1 -1.00 3.75L-0.55 -0.30ZM0.53 0.33L-2.75 2.74A1 1 0 0 1 -3.75 1.01L-0.02 -0.63ZM-0.02 0.63L-3.75 -1.01A1 1 0 0 1 -2.75 -2.74L0.53 -0.33Z"/><path transform="translate(751.4 114.5)" d="M-0.55 0.30L-1.00 -3.75A1 1 0 0 1 1.00 -3.75L0.55 0.30ZM-0.53 -0.33L2.75 -2.74A1 1 0 0 1 3.75 -1.01L0.02 0.63ZM0.02 -0.63L3.75 1.01A1 1 0 0 1 2.75 2.74L-0.53 0.33ZM0.55 -0.30L1.00 3.75A1 1 0 0 1 -1.00 3.75L-0.55 -0.30ZM0.53 0.33L-2.75 2.74A1 1 0 0 1 -3.75 1.01L-0.02 -0.63ZM-0.02 0.63L-3.75 -1.01A1 1 0 0 1 -2.75 -2.74L0.53 -0.33Z"/><path transform="translate(725.8 130.5)" d="M-0.55 0.30L-1.00 -3.75A1 1 0 0 1 1.00 -3.75L0.55 0.30ZM-0.53 -0.33L2.75 -2.74A1 1 0 0 1 3.75 -1.01L0.02 0.63ZM0.02 -0.63L3.75 1.01A1 1 0 0 1 2.75 2.74L-0.53 0.33ZM0.55 -0.30L1.00 3.75A1 1 0 0 1 -1.00 3.75L-0.55 -0.30ZM0.53 0.33L-2.75 2.74A1 1 0 0 1 -3.75 1.01L-0.02 -0.63ZM-0.02 0.63L-3.75 -1.01A1 1 0 0 1 -2.75 -2.74L0.53 -0.33Z"/><path transform="translate(738.6 130.5)" d="M-0.55 0.30L-1.00 -3.75A1 1 0 0 1 1.00 -3.75L0.55 0.30ZM-0.53 -0.33L2.75 -2.74A1 1 0 0 1 3.75 -1.01L0.02 0.63ZM0.02 -0.63L3.75 1.01A1 1 0 0 1 2.75 2.74L-0.53 0.33ZM0.55 -0.30L1.00 3.75A1 1 0 0 1 -1.00 3.75L-0.55 -0.30ZM0.53 0.33L-2.75 2.74A1 1 0 0 1 -3.75 1.01L-0.02 -0.63ZM-0.02 0.63L-3.75 -1.01A1 1 0 0 1 -2.75 -2.74L0.53 -0.33Z"/><path transform="translate(751.4 130.5)" d="M-0.55 0.30L-1.00 -3.75A1 1 0 0 1 1.00 -3.75L0.55 0.30ZM-0.53 -0.33L2.75 -2.74A1 1 0 0 1 3.75 -1.01L0.02 0.63ZM0.02 -0.63L3.75 1.01A1 1 0 0 1 2.75 2.74L-0.53 0.33ZM0.55 -0.30L1.00 3.75A1 1 0 0 1 -1.00 3.75L-0.55 -0.30ZM0.53 0.33L-2.75 2.74A1 1 0 0 1 -3.75 1.01L-0.02 -0.63ZM-0.02 0.63L-3.75 -1.01A1 1 0 0 1 -2.75 -2.74L0.53 -0.33Z"/><path transform="translate(954.5 46.8)" d="M-0.55 0.30L-1.00 -3.75A1 1 0 0 1 1.00 -3.75L0.55 0.30ZM-0.53 -0.33L2.75 -2.74A1 1 0 0 1 3.75 -1.01L0.02 0.63ZM0.02 -0.63L3.75 1.01A1 1 0 0 1 2.75 2.74L-0.53 0.33ZM0.55 -0.30L1.00 3.75A1 1 0 0 1 -1.00 3.75L-0.55 -0.30ZM0.53 0.33L-2.75 2.74A1 1 0 0 1 -3.75 1.01L-0.02 -0.63ZM-0.02 0.63L-3.75 -1.01A1 1 0 0 1 -2.75 -2.74L0.53 -0.33Z"/><path transform="translate(967.3 46.8)" d="M-0.55 0.30L-1.00 -3.75A1 1 0 0 1 1.00 -3.75L0.55 0.30ZM-0.53 -0.33L2.75 -2.74A1 1 0 0 1 3.75 -1.01L0.02 0.63ZM0.02 -0.63L3.75 1.01A1 1 0 0 1 2.75 2.74L-0.53 0.33ZM0.55 -0.30L1.00 3.75A1 1 0 0 1 -1.00 3.75L-0.55 -0.30ZM0.53 0.33L-2.75 2.74A1 1 0 0 1 -3.75 1.01L-0.02 -0.63ZM-0.02 0.63L-3.75 -1.01A1 1 0 0 1 -2.75 -2.74L0.53 -0.33Z"/><path transform="translate(980.1 46.8)" d="M-0.55 0.30L-1.00 -3.75A1 1 0 0 1 1.00 -3.75L0.55 0.30ZM-0.53 -0.33L2.75 -2.74A1 1 0 0 1 3.75 -1.01L0.02 0.63ZM0.02 -0.63L3.75 1.01A1 1 0 0 1 2.75 2.74L-0.53 0.33ZM0.55 -0.30L1.00 3.75A1 1 0 0 1 -1.00 3.75L-0.55 -0.30ZM0.53 0.33L-2.75 2.74A1 1 0 0 1 -3.75 1.01L-0.02 -0.63ZM-0.02 0.63L-3.75 -1.01A1 1 0 0 1 -2.75 -2.74L0.53 -0.33Z"/><path transform="translate(954.5 224.5)" d="M-0.55 0.30L-1.00 -3.75A1 1 0 0 1 1.00 -3.75L0.55 0.30ZM-0.53 -0.33L2.75 -2.74A1 1 0 0 1 3.75 -1.01L0.02 0.63ZM0.02 -0.63L3.75 1.01A1 1 0 0 1 2.75 2.74L-0.53 0.33ZM0.55 -0.30L1.00 3.75A1 1 0 0 1 -1.00 3.75L-0.55 -0.30ZM0.53 0.33L-2.75 2.74A1 1 0 0 1 -3.75 1.01L-0.02 -0.63ZM-0.02 0.63L-3.75 -1.01A1 1 0 0 1 -2.75 -2.74L0.53 -0.33Z"/></g>
<rect x="30.5" y="368.5" width="472.0" height="328.0" fill="#fff" stroke="#9c9c9c" stroke-width="1.3"/>
<rect x="89.75" y="434" width="31.75" height="3" fill="#00b050"/>
<rect x="89.75" y="437" width="31.75" height="8" fill="url(#p_det)"/>
<rect x="89.75" y="445" width="31.75" height="175.7" fill="url(#p_soil)"/>
<rect x="169.5" y="410" width="32.25" height="22.3" fill="#00b050"/>
<rect x="169.5" y="432.3" width="32.25" height="4.7" fill="url(#p_det)"/>
<rect x="169.5" y="437" width="32.25" height="183.7" fill="url(#p_soil)"/>
<rect x="329.4" y="590.8" width="32.5" height="7.9" fill="#00b050"/>
<rect x="329.4" y="598.7" width="32.5" height="17.2" fill="url(#p_det)"/>
<rect x="329.4" y="615.9" width="32.5" height="4.8" fill="url(#p_soil)"/>
<rect x="329.4" y="620.7" width="32.5" height="1.8" fill="url(#p_deep)"/>
<rect x="409.0" y="553.7" width="32.8" height="28.1" fill="#00b050"/>
<rect x="409.0" y="581.8" width="32.8" height="27.2" fill="url(#p_det)"/>
<rect x="409.0" y="609" width="32.8" height="11.7" fill="url(#p_soil)"/>
<rect x="409.0" y="620.7" width="32.8" height="3.7" fill="url(#p_deep)"/>
<path d="M65.5 375.0V655.5M61.9 375.0H65.5M61.9 410.06H65.5M61.9 445.12H65.5M61.9 480.18H65.5M61.9 515.24H65.5M61.9 550.3H65.5M61.9 585.36H65.5M61.9 620.42H65.5M61.9 655.48H65.5M65.5 620.9H465.5M145.5 620.9V627.4M225.5 620.9V627.4M305.5 620.9V627.4M385.5 620.9V627.4M465.5 620.9V627.4" fill="none" stroke="#9c9c9c" stroke-width="1.3"/>
<text x="56.099999999999994" y="379.0" font-size="10" text-anchor="end" textLength="16.6" lengthAdjust="spacingAndGlyphs">700</text>
<text x="56.099999999999994" y="414.1" font-size="10" text-anchor="end" textLength="16.6" lengthAdjust="spacingAndGlyphs">600</text>
<text x="56.099999999999994" y="449.1" font-size="10" text-anchor="end" textLength="16.6" lengthAdjust="spacingAndGlyphs">500</text>
<text x="56.099999999999994" y="484.2" font-size="10" text-anchor="end" textLength="16.6" lengthAdjust="spacingAndGlyphs">400</text>
<text x="56.099999999999994" y="519.2" font-size="10" text-anchor="end" textLength="16.6" lengthAdjust="spacingAndGlyphs">300</text>
<text x="56.099999999999994" y="554.3" font-size="10" text-anchor="end" textLength="16.6" lengthAdjust="spacingAndGlyphs">200</text>
<text x="56.099999999999994" y="589.4" font-size="10" text-anchor="end" textLength="16.6" lengthAdjust="spacingAndGlyphs">100</text>
<text x="56.099999999999994" y="624.4" font-size="10" text-anchor="end" textLength="5.5" lengthAdjust="spacingAndGlyphs">0</text>
<text x="56.099999999999994" y="659.5" font-size="10" text-anchor="end" textLength="19.8" lengthAdjust="spacingAndGlyphs">-100</text>
<text x="244.28" y="389" font-size="22.4" text-anchor="start" textLength="66.35" lengthAdjust="spacingAndGlyphs">Bray P</text>
<text x="87.72" y="690.5" font-size="18.8" text-anchor="start" textLength="35.97" lengthAdjust="spacingAndGlyphs">Fire</text>
<text x="156.42" y="690.5" font-size="18.8" text-anchor="start" textLength="58.07" lengthAdjust="spacingAndGlyphs">Forest</text>
<text x="328.12" y="690.5" font-size="18.8" text-anchor="start" textLength="35.77" lengthAdjust="spacingAndGlyphs">Fire</text>
<text x="396.82" y="690.5" font-size="18.8" text-anchor="start" textLength="58.07" lengthAdjust="spacingAndGlyphs">Forest</text>
<g transform="translate(20.3 552.1) rotate(-90)"><text x="0" y="0" font-size="18.5" textLength="41.5" lengthAdjust="spacingAndGlyphs">kg ha</text><text x="42.3" y="-5.9" font-size="11.6" textLength="9.2" lengthAdjust="spacingAndGlyphs">-1</text></g>
<g fill="#000"><path transform="translate(225.5 419.6)" d="M-0.55 0.30L-1.00 -3.75A1 1 0 0 1 1.00 -3.75L0.55 0.30ZM-0.53 -0.33L2.75 -2.74A1 1 0 0 1 3.75 -1.01L0.02 0.63ZM0.02 -0.63L3.75 1.01A1 1 0 0 1 2.75 2.74L-0.53 0.33ZM0.55 -0.30L1.00 3.75A1 1 0 0 1 -1.00 3.75L-0.55 -0.30ZM0.53 0.33L-2.75 2.74A1 1 0 0 1 -3.75 1.01L-0.02 -0.63ZM-0.02 0.63L-3.75 -1.01A1 1 0 0 1 -2.75 -2.74L0.53 -0.33Z"/><path transform="translate(238.3 419.6)" d="M-0.55 0.30L-1.00 -3.75A1 1 0 0 1 1.00 -3.75L0.55 0.30ZM-0.53 -0.33L2.75 -2.74A1 1 0 0 1 3.75 -1.01L0.02 0.63ZM0.02 -0.63L3.75 1.01A1 1 0 0 1 2.75 2.74L-0.53 0.33ZM0.55 -0.30L1.00 3.75A1 1 0 0 1 -1.00 3.75L-0.55 -0.30ZM0.53 0.33L-2.75 2.74A1 1 0 0 1 -3.75 1.01L-0.02 -0.63ZM-0.02 0.63L-3.75 -1.01A1 1 0 0 1 -2.75 -2.74L0.53 -0.33Z"/><path transform="translate(251.1 419.6)" d="M-0.55 0.30L-1.00 -3.75A1 1 0 0 1 1.00 -3.75L0.55 0.30ZM-0.53 -0.33L2.75 -2.74A1 1 0 0 1 3.75 -1.01L0.02 0.63ZM0.02 -0.63L3.75 1.01A1 1 0 0 1 2.75 2.74L-0.53 0.33ZM0.55 -0.30L1.00 3.75A1 1 0 0 1 -1.00 3.75L-0.55 -0.30ZM0.53 0.33L-2.75 2.74A1 1 0 0 1 -3.75 1.01L-0.02 -0.63ZM-0.02 0.63L-3.75 -1.01A1 1 0 0 1 -2.75 -2.74L0.53 -0.33Z"/><path transform="translate(225.5 435.6)" d="M-0.55 0.30L-1.00 -3.75A1 1 0 0 1 1.00 -3.75L0.55 0.30ZM-0.53 -0.33L2.75 -2.74A1 1 0 0 1 3.75 -1.01L0.02 0.63ZM0.02 -0.63L3.75 1.01A1 1 0 0 1 2.75 2.74L-0.53 0.33ZM0.55 -0.30L1.00 3.75A1 1 0 0 1 -1.00 3.75L-0.55 -0.30ZM0.53 0.33L-2.75 2.74A1 1 0 0 1 -3.75 1.01L-0.02 -0.63ZM-0.02 0.63L-3.75 -1.01A1 1 0 0 1 -2.75 -2.74L0.53 -0.33Z"/><path transform="translate(238.3 435.6)" d="M-0.55 0.30L-1.00 -3.75A1 1 0 0 1 1.00 -3.75L0.55 0.30ZM-0.53 -0.33L2.75 -2.74A1 1 0 0 1 3.75 -1.01L0.02 0.63ZM0.02 -0.63L3.75 1.01A1 1 0 0 1 2.75 2.74L-0.53 0.33ZM0.55 -0.30L1.00 3.75A1 1 0 0 1 -1.00 3.75L-0.55 -0.30ZM0.53 0.33L-2.75 2.74A1 1 0 0 1 -3.75 1.01L-0.02 -0.63ZM-0.02 0.63L-3.75 -1.01A1 1 0 0 1 -2.75 -2.74L0.53 -0.33Z"/><path transform="translate(251.1 435.6)" d="M-0.55 0.30L-1.00 -3.75A1 1 0 0 1 1.00 -3.75L0.55 0.30ZM-0.53 -0.33L2.75 -2.74A1 1 0 0 1 3.75 -1.01L0.02 0.63ZM0.02 -0.63L3.75 1.01A1 1 0 0 1 2.75 2.74L-0.53 0.33ZM0.55 -0.30L1.00 3.75A1 1 0 0 1 -1.00 3.75L-0.55 -0.30ZM0.53 0.33L-2.75 2.74A1 1 0 0 1 -3.75 1.01L-0.02 -0.63ZM-0.02 0.63L-3.75 -1.01A1 1 0 0 1 -2.75 -2.74L0.53 -0.33Z"/><path transform="translate(462.8 571.8)" d="M-0.55 0.30L-1.00 -3.75A1 1 0 0 1 1.00 -3.75L0.55 0.30ZM-0.53 -0.33L2.75 -2.74A1 1 0 0 1 3.75 -1.01L0.02 0.63ZM0.02 -0.63L3.75 1.01A1 1 0 0 1 2.75 2.74L-0.53 0.33ZM0.55 -0.30L1.00 3.75A1 1 0 0 1 -1.00 3.75L-0.55 -0.30ZM0.53 0.33L-2.75 2.74A1 1 0 0 1 -3.75 1.01L-0.02 -0.63ZM-0.02 0.63L-3.75 -1.01A1 1 0 0 1 -2.75 -2.74L0.53 -0.33Z"/><path transform="translate(475.6 571.8)" d="M-0.55 0.30L-1.00 -3.75A1 1 0 0 1 1.00 -3.75L0.55 0.30ZM-0.53 -0.33L2.75 -2.74A1 1 0 0 1 3.75 -1.01L0.02 0.63ZM0.02 -0.63L3.75 1.01A1 1 0 0 1 2.75 2.74L-0.53 0.33ZM0.55 -0.30L1.00 3.75A1 1 0 0 1 -1.00 3.75L-0.55 -0.30ZM0.53 0.33L-2.75 2.74A1 1 0 0 1 -3.75 1.01L-0.02 -0.63ZM-0.02 0.63L-3.75 -1.01A1 1 0 0 1 -2.75 -2.74L0.53 -0.33Z"/><path transform="translate(488.4 571.8)" d="M-0.55 0.30L-1.00 -3.75A1 1 0 0 1 1.00 -3.75L0.55 0.30ZM-0.53 -0.33L2.75 -2.74A1 1 0 0 1 3.75 -1.01L0.02 0.63ZM0.02 -0.63L3.75 1.01A1 1 0 0 1 2.75 2.74L-0.53 0.33ZM0.55 -0.30L1.00 3.75A1 1 0 0 1 -1.00 3.75L-0.55 -0.30ZM0.53 0.33L-2.75 2.74A1 1 0 0 1 -3.75 1.01L-0.02 -0.63ZM-0.02 0.63L-3.75 -1.01A1 1 0 0 1 -2.75 -2.74L0.53 -0.33Z"/><path transform="translate(462.8 613.9)" d="M-0.55 0.30L-1.00 -3.75A1 1 0 0 1 1.00 -3.75L0.55 0.30ZM-0.53 -0.33L2.75 -2.74A1 1 0 0 1 3.75 -1.01L0.02 0.63ZM0.02 -0.63L3.75 1.01A1 1 0 0 1 2.75 2.74L-0.53 0.33ZM0.55 -0.30L1.00 3.75A1 1 0 0 1 -1.00 3.75L-0.55 -0.30ZM0.53 0.33L-2.75 2.74A1 1 0 0 1 -3.75 1.01L-0.02 -0.63ZM-0.02 0.63L-3.75 -1.01A1 1 0 0 1 -2.75 -2.74L0.53 -0.33Z"/><path transform="translate(475.6 613.9)" d="M-0.55 0.30L-1.00 -3.75A1 1 0 0 1 1.00 -3.75L0.55 0.30ZM-0.53 -0.33L2.75 -2.74A1 1 0 0 1 3.75 -1.01L0.02 0.63ZM0.02 -0.63L3.75 1.01A1 1 0 0 1 2.75 2.74L-0.53 0.33ZM0.55 -0.30L1.00 3.75A1 1 0 0 1 -1.00 3.75L-0.55 -0.30ZM0.53 0.33L-2.75 2.74A1 1 0 0 1 -3.75 1.01L-0.02 -0.63ZM-0.02 0.63L-3.75 -1.01A1 1 0 0 1 -2.75 -2.74L0.53 -0.33Z"/><path transform="translate(488.4 613.9)" d="M-0.55 0.30L-1.00 -3.75A1 1 0 0 1 1.00 -3.75L0.55 0.30ZM-0.53 -0.33L2.75 -2.74A1 1 0 0 1 3.75 -1.01L0.02 0.63ZM0.02 -0.63L3.75 1.01A1 1 0 0 1 2.75 2.74L-0.53 0.33ZM0.55 -0.30L1.00 3.75A1 1 0 0 1 -1.00 3.75L-0.55 -0.30ZM0.53 0.33L-2.75 2.74A1 1 0 0 1 -3.75 1.01L-0.02 -0.63ZM-0.02 0.63L-3.75 -1.01A1 1 0 0 1 -2.75 -2.74L0.53 -0.33Z"/><path transform="translate(462.8 647.8)" d="M-0.55 0.30L-1.00 -3.75A1 1 0 0 1 1.00 -3.75L0.55 0.30ZM-0.53 -0.33L2.75 -2.74A1 1 0 0 1 3.75 -1.01L0.02 0.63ZM0.02 -0.63L3.75 1.01A1 1 0 0 1 2.75 2.74L-0.53 0.33ZM0.55 -0.30L1.00 3.75A1 1 0 0 1 -1.00 3.75L-0.55 -0.30ZM0.53 0.33L-2.75 2.74A1 1 0 0 1 -3.75 1.01L-0.02 -0.63ZM-0.02 0.63L-3.75 -1.01A1 1 0 0 1 -2.75 -2.74L0.53 -0.33Z"/></g>
<rect x="538.5" y="368.5" width="455.0" height="330.0" fill="#fff" stroke="#9c9c9c" stroke-width="1.3"/>
<rect x="595.25" y="435" width="30.5" height="7" fill="#00b050"/>
<rect x="595.25" y="442" width="30.5" height="22.5" fill="url(#p_det)"/>
<rect x="595.25" y="464.5" width="30.5" height="145.8" fill="url(#p_soil)"/>
<rect x="672.5" y="438" width="31.25" height="59.5" fill="#00b050"/>
<rect x="672.5" y="497.5" width="31.25" height="13.0" fill="url(#p_det)"/>
<rect x="672.5" y="510.5" width="31.25" height="99.8" fill="url(#p_soil)"/>
<rect x="826.75" y="522" width="31.25" height="21" fill="#00b050"/>
<rect x="826.75" y="543" width="31.25" height="49" fill="url(#p_det)"/>
<rect x="826.75" y="592" width="31.25" height="18.3" fill="url(#p_soil)"/>
<rect x="826.75" y="610.3" width="31.25" height="34.4" fill="url(#p_deep)"/>
<rect x="903.5" y="426.5" width="31.5" height="73.5" fill="#00b050"/>
<rect x="903.5" y="500" width="31.5" height="75" fill="url(#p_det)"/>
<rect x="903.5" y="575" width="31.5" height="35.3" fill="url(#p_soil)"/>
<rect x="903.5" y="610.3" width="31.5" height="31.5" fill="url(#p_deep)"/>
<path d="M572.5 375.0V657.5M568.9 375.0H572.5M568.9 422.06H572.5M568.9 469.12H572.5M568.9 516.18H572.5M568.9 563.24H572.5M568.9 610.3H572.5M568.9 657.36H572.5M572.5 610.3H958.0M649.5 610.3V616.8M726.5 610.3V616.8M803.7 610.3V616.8M880.5 610.3V616.8M958.0 610.3V616.8" fill="none" stroke="#9c9c9c" stroke-width="1.3"/>
<text x="562.8" y="379.0" font-size="10" text-anchor="end" textLength="16.6" lengthAdjust="spacingAndGlyphs">250</text>
<text x="562.8" y="426.1" font-size="10" text-anchor="end" textLength="16.6" lengthAdjust="spacingAndGlyphs">200</text>
<text x="562.8" y="473.1" font-size="10" text-anchor="end" textLength="16.6" lengthAdjust="spacingAndGlyphs">150</text>
<text x="562.8" y="520.2" font-size="10" text-anchor="end" textLength="16.6" lengthAdjust="spacingAndGlyphs">100</text>
<text x="562.8" y="567.2" font-size="10" text-anchor="end" textLength="11.1" lengthAdjust="spacingAndGlyphs">50</text>
<text x="562.8" y="614.3" font-size="10" text-anchor="end" textLength="5.5" lengthAdjust="spacingAndGlyphs">0</text>
<text x="562.8" y="661.4" font-size="10" text-anchor="end" textLength="14.2" lengthAdjust="spacingAndGlyphs">-50</text>
<text x="719.18" y="405.7" font-size="22.4" text-anchor="start" textLength="129.65" lengthAdjust="spacingAndGlyphs">Bicarbonate</text>
<text x="851.08" y="405.7" font-size="22.4" text-anchor="start" textLength="13.55" lengthAdjust="spacingAndGlyphs">P</text>
<text x="593.42" y="692.4" font-size="18.8" text-anchor="start" textLength="34.77" lengthAdjust="spacingAndGlyphs">Fire</text>
<text x="660.12" y="692.4" font-size="18.8" text-anchor="start" textLength="56.17" lengthAdjust="spacingAndGlyphs">Forest</text>
<text x="825.42" y="692.4" font-size="18.8" text-anchor="start" textLength="34.27" lengthAdjust="spacingAndGlyphs">Fire</text>
<text x="891.62" y="692.4" font-size="18.8" text-anchor="start" textLength="56.47" lengthAdjust="spacingAndGlyphs">Forest</text>
<g transform="translate(520.3 543.8) rotate(-90)"><text x="0" y="0" font-size="18.5" textLength="41" lengthAdjust="spacingAndGlyphs">kg ha</text><text x="41.8" y="-5.9" font-size="11.6" textLength="9.2" lengthAdjust="spacingAndGlyphs">-1</text></g>
<g fill="#000"><path transform="translate(734.0 460.9)" d="M-0.55 0.30L-1.00 -3.75A1 1 0 0 1 1.00 -3.75L0.55 0.30ZM-0.53 -0.33L2.75 -2.74A1 1 0 0 1 3.75 -1.01L0.02 0.63ZM0.02 -0.63L3.75 1.01A1 1 0 0 1 2.75 2.74L-0.53 0.33ZM0.55 -0.30L1.00 3.75A1 1 0 0 1 -1.00 3.75L-0.55 -0.30ZM0.53 0.33L-2.75 2.74A1 1 0 0 1 -3.75 1.01L-0.02 -0.63ZM-0.02 0.63L-3.75 -1.01A1 1 0 0 1 -2.75 -2.74L0.53 -0.33Z"/><path transform="translate(746.8 460.9)" d="M-0.55 0.30L-1.00 -3.75A1 1 0 0 1 1.00 -3.75L0.55 0.30ZM-0.53 -0.33L2.75 -2.74A1 1 0 0 1 3.75 -1.01L0.02 0.63ZM0.02 -0.63L3.75 1.01A1 1 0 0 1 2.75 2.74L-0.53 0.33ZM0.55 -0.30L1.00 3.75A1 1 0 0 1 -1.00 3.75L-0.55 -0.30ZM0.53 0.33L-2.75 2.74A1 1 0 0 1 -3.75 1.01L-0.02 -0.63ZM-0.02 0.63L-3.75 -1.01A1 1 0 0 1 -2.75 -2.74L0.53 -0.33Z"/><path transform="translate(759.6 460.9)" d="M-0.55 0.30L-1.00 -3.75A1 1 0 0 1 1.00 -3.75L0.55 0.30ZM-0.53 -0.33L2.75 -2.74A1 1 0 0 1 3.75 -1.01L0.02 0.63ZM0.02 -0.63L3.75 1.01A1 1 0 0 1 2.75 2.74L-0.53 0.33ZM0.55 -0.30L1.00 3.75A1 1 0 0 1 -1.00 3.75L-0.55 -0.30ZM0.53 0.33L-2.75 2.74A1 1 0 0 1 -3.75 1.01L-0.02 -0.63ZM-0.02 0.63L-3.75 -1.01A1 1 0 0 1 -2.75 -2.74L0.53 -0.33Z"/><path transform="translate(734.0 503.4)" d="M-0.55 0.30L-1.00 -3.75A1 1 0 0 1 1.00 -3.75L0.55 0.30ZM-0.53 -0.33L2.75 -2.74A1 1 0 0 1 3.75 -1.01L0.02 0.63ZM0.02 -0.63L3.75 1.01A1 1 0 0 1 2.75 2.74L-0.53 0.33ZM0.55 -0.30L1.00 3.75A1 1 0 0 1 -1.00 3.75L-0.55 -0.30ZM0.53 0.33L-2.75 2.74A1 1 0 0 1 -3.75 1.01L-0.02 -0.63ZM-0.02 0.63L-3.75 -1.01A1 1 0 0 1 -2.75 -2.74L0.53 -0.33Z"/><path transform="translate(746.8 503.4)" d="M-0.55 0.30L-1.00 -3.75A1 1 0 0 1 1.00 -3.75L0.55 0.30ZM-0.53 -0.33L2.75 -2.74A1 1 0 0 1 3.75 -1.01L0.02 0.63ZM0.02 -0.63L3.75 1.01A1 1 0 0 1 2.75 2.74L-0.53 0.33ZM0.55 -0.30L1.00 3.75A1 1 0 0 1 -1.00 3.75L-0.55 -0.30ZM0.53 0.33L-2.75 2.74A1 1 0 0 1 -3.75 1.01L-0.02 -0.63ZM-0.02 0.63L-3.75 -1.01A1 1 0 0 1 -2.75 -2.74L0.53 -0.33Z"/><path transform="translate(759.6 503.4)" d="M-0.55 0.30L-1.00 -3.75A1 1 0 0 1 1.00 -3.75L0.55 0.30ZM-0.53 -0.33L2.75 -2.74A1 1 0 0 1 3.75 -1.01L0.02 0.63ZM0.02 -0.63L3.75 1.01A1 1 0 0 1 2.75 2.74L-0.53 0.33ZM0.55 -0.30L1.00 3.75A1 1 0 0 1 -1.00 3.75L-0.55 -0.30ZM0.53 0.33L-2.75 2.74A1 1 0 0 1 -3.75 1.01L-0.02 -0.63ZM-0.02 0.63L-3.75 -1.01A1 1 0 0 1 -2.75 -2.74L0.53 -0.33Z"/><path transform="translate(734.2 554.9)" d="M-0.55 0.30L-1.00 -3.75A1 1 0 0 1 1.00 -3.75L0.55 0.30ZM-0.53 -0.33L2.75 -2.74A1 1 0 0 1 3.75 -1.01L0.02 0.63ZM0.02 -0.63L3.75 1.01A1 1 0 0 1 2.75 2.74L-0.53 0.33ZM0.55 -0.30L1.00 3.75A1 1 0 0 1 -1.00 3.75L-0.55 -0.30ZM0.53 0.33L-2.75 2.74A1 1 0 0 1 -3.75 1.01L-0.02 -0.63ZM-0.02 0.63L-3.75 -1.01A1 1 0 0 1 -2.75 -2.74L0.53 -0.33Z"/><path transform="translate(747.0 554.9)" d="M-0.55 0.30L-1.00 -3.75A1 1 0 0 1 1.00 -3.75L0.55 0.30ZM-0.53 -0.33L2.75 -2.74A1 1 0 0 1 3.75 -1.01L0.02 0.63ZM0.02 -0.63L3.75 1.01A1 1 0 0 1 2.75 2.74L-0.53 0.33ZM0.55 -0.30L1.00 3.75A1 1 0 0 1 -1.00 3.75L-0.55 -0.30ZM0.53 0.33L-2.75 2.74A1 1 0 0 1 -3.75 1.01L-0.02 -0.63ZM-0.02 0.63L-3.75 -1.01A1 1 0 0 1 -2.75 -2.74L0.53 -0.33Z"/><path transform="translate(759.8 554.9)" d="M-0.55 0.30L-1.00 -3.75A1 1 0 0 1 1.00 -3.75L0.55 0.30ZM-0.53 -0.33L2.75 -2.74A1 1 0 0 1 3.75 -1.01L0.02 0.63ZM0.02 -0.63L3.75 1.01A1 1 0 0 1 2.75 2.74L-0.53 0.33ZM0.55 -0.30L1.00 3.75A1 1 0 0 1 -1.00 3.75L-0.55 -0.30ZM0.53 0.33L-2.75 2.74A1 1 0 0 1 -3.75 1.01L-0.02 -0.63ZM-0.02 0.63L-3.75 -1.01A1 1 0 0 1 -2.75 -2.74L0.53 -0.33Z"/><path transform="translate(954.5 444.5)" d="M-0.55 0.30L-1.00 -3.75A1 1 0 0 1 1.00 -3.75L0.55 0.30ZM-0.53 -0.33L2.75 -2.74A1 1 0 0 1 3.75 -1.01L0.02 0.63ZM0.02 -0.63L3.75 1.01A1 1 0 0 1 2.75 2.74L-0.53 0.33ZM0.55 -0.30L1.00 3.75A1 1 0 0 1 -1.00 3.75L-0.55 -0.30ZM0.53 0.33L-2.75 2.74A1 1 0 0 1 -3.75 1.01L-0.02 -0.63ZM-0.02 0.63L-3.75 -1.01A1 1 0 0 1 -2.75 -2.74L0.53 -0.33Z"/><path transform="translate(967.3 444.5)" d="M-0.55 0.30L-1.00 -3.75A1 1 0 0 1 1.00 -3.75L0.55 0.30ZM-0.53 -0.33L2.75 -2.74A1 1 0 0 1 3.75 -1.01L0.02 0.63ZM0.02 -0.63L3.75 1.01A1 1 0 0 1 2.75 2.74L-0.53 0.33ZM0.55 -0.30L1.00 3.75A1 1 0 0 1 -1.00 3.75L-0.55 -0.30ZM0.53 0.33L-2.75 2.74A1 1 0 0 1 -3.75 1.01L-0.02 -0.63ZM-0.02 0.63L-3.75 -1.01A1 1 0 0 1 -2.75 -2.74L0.53 -0.33Z"/><path transform="translate(980.1 444.5)" d="M-0.55 0.30L-1.00 -3.75A1 1 0 0 1 1.00 -3.75L0.55 0.30ZM-0.53 -0.33L2.75 -2.74A1 1 0 0 1 3.75 -1.01L0.02 0.63ZM0.02 -0.63L3.75 1.01A1 1 0 0 1 2.75 2.74L-0.53 0.33ZM0.55 -0.30L1.00 3.75A1 1 0 0 1 -1.00 3.75L-0.55 -0.30ZM0.53 0.33L-2.75 2.74A1 1 0 0 1 -3.75 1.01L-0.02 -0.63ZM-0.02 0.63L-3.75 -1.01A1 1 0 0 1 -2.75 -2.74L0.53 -0.33Z"/><path transform="translate(954.5 537.5)" d="M-0.55 0.30L-1.00 -3.75A1 1 0 0 1 1.00 -3.75L0.55 0.30ZM-0.53 -0.33L2.75 -2.74A1 1 0 0 1 3.75 -1.01L0.02 0.63ZM0.02 -0.63L3.75 1.01A1 1 0 0 1 2.75 2.74L-0.53 0.33ZM0.55 -0.30L1.00 3.75A1 1 0 0 1 -1.00 3.75L-0.55 -0.30ZM0.53 0.33L-2.75 2.74A1 1 0 0 1 -3.75 1.01L-0.02 -0.63ZM-0.02 0.63L-3.75 -1.01A1 1 0 0 1 -2.75 -2.74L0.53 -0.33Z"/><path transform="translate(967.3 537.5)" d="M-0.55 0.30L-1.00 -3.75A1 1 0 0 1 1.00 -3.75L0.55 0.30ZM-0.53 -0.33L2.75 -2.74A1 1 0 0 1 3.75 -1.01L0.02 0.63ZM0.02 -0.63L3.75 1.01A1 1 0 0 1 2.75 2.74L-0.53 0.33ZM0.55 -0.30L1.00 3.75A1 1 0 0 1 -1.00 3.75L-0.55 -0.30ZM0.53 0.33L-2.75 2.74A1 1 0 0 1 -3.75 1.01L-0.02 -0.63ZM-0.02 0.63L-3.75 -1.01A1 1 0 0 1 -2.75 -2.74L0.53 -0.33Z"/><path transform="translate(980.1 537.5)" d="M-0.55 0.30L-1.00 -3.75A1 1 0 0 1 1.00 -3.75L0.55 0.30ZM-0.53 -0.33L2.75 -2.74A1 1 0 0 1 3.75 -1.01L0.02 0.63ZM0.02 -0.63L3.75 1.01A1 1 0 0 1 2.75 2.74L-0.53 0.33ZM0.55 -0.30L1.00 3.75A1 1 0 0 1 -1.00 3.75L-0.55 -0.30ZM0.53 0.33L-2.75 2.74A1 1 0 0 1 -3.75 1.01L-0.02 -0.63ZM-0.02 0.63L-3.75 -1.01A1 1 0 0 1 -2.75 -2.74L0.53 -0.33Z"/><path transform="translate(954.5 588.4)" d="M-0.55 0.30L-1.00 -3.75A1 1 0 0 1 1.00 -3.75L0.55 0.30ZM-0.53 -0.33L2.75 -2.74A1 1 0 0 1 3.75 -1.01L0.02 0.63ZM0.02 -0.63L3.75 1.01A1 1 0 0 1 2.75 2.74L-0.53 0.33ZM0.55 -0.30L1.00 3.75A1 1 0 0 1 -1.00 3.75L-0.55 -0.30ZM0.53 0.33L-2.75 2.74A1 1 0 0 1 -3.75 1.01L-0.02 -0.63ZM-0.02 0.63L-3.75 -1.01A1 1 0 0 1 -2.75 -2.74L0.53 -0.33Z"/><path transform="translate(967.3 588.4)" d="M-0.55 0.30L-1.00 -3.75A1 1 0 0 1 1.00 -3.75L0.55 0.30ZM-0.53 -0.33L2.75 -2.74A1 1 0 0 1 3.75 -1.01L0.02 0.63ZM0.02 -0.63L3.75 1.01A1 1 0 0 1 2.75 2.74L-0.53 0.33ZM0.55 -0.30L1.00 3.75A1 1 0 0 1 -1.00 3.75L-0.55 -0.30ZM0.53 0.33L-2.75 2.74A1 1 0 0 1 -3.75 1.01L-0.02 -0.63ZM-0.02 0.63L-3.75 -1.01A1 1 0 0 1 -2.75 -2.74L0.53 -0.33Z"/><path transform="translate(980.1 588.4)" d="M-0.55 0.30L-1.00 -3.75A1 1 0 0 1 1.00 -3.75L0.55 0.30ZM-0.53 -0.33L2.75 -2.74A1 1 0 0 1 3.75 -1.01L0.02 0.63ZM0.02 -0.63L3.75 1.01A1 1 0 0 1 2.75 2.74L-0.53 0.33ZM0.55 -0.30L1.00 3.75A1 1 0 0 1 -1.00 3.75L-0.55 -0.30ZM0.53 0.33L-2.75 2.74A1 1 0 0 1 -3.75 1.01L-0.02 -0.63ZM-0.02 0.63L-3.75 -1.01A1 1 0 0 1 -2.75 -2.74L0.53 -0.33Z"/></g>
<text x="99.97" y="730.7" font-size="19.5" text-anchor="start" textLength="106.55" lengthAdjust="spacingAndGlyphs">Little Valley</text>
<text x="365.67" y="730.7" font-size="19.5" text-anchor="start" textLength="79.45" lengthAdjust="spacingAndGlyphs">Sagehen</text>
<text x="599.17" y="730.7" font-size="19.5" text-anchor="start" textLength="107.35" lengthAdjust="spacingAndGlyphs">Little Valley</text>
<text x="851.27" y="730.7" font-size="19.5" text-anchor="start" textLength="79.85" lengthAdjust="spacingAndGlyphs">Sagehen</text>
</svg>
</body></html>
